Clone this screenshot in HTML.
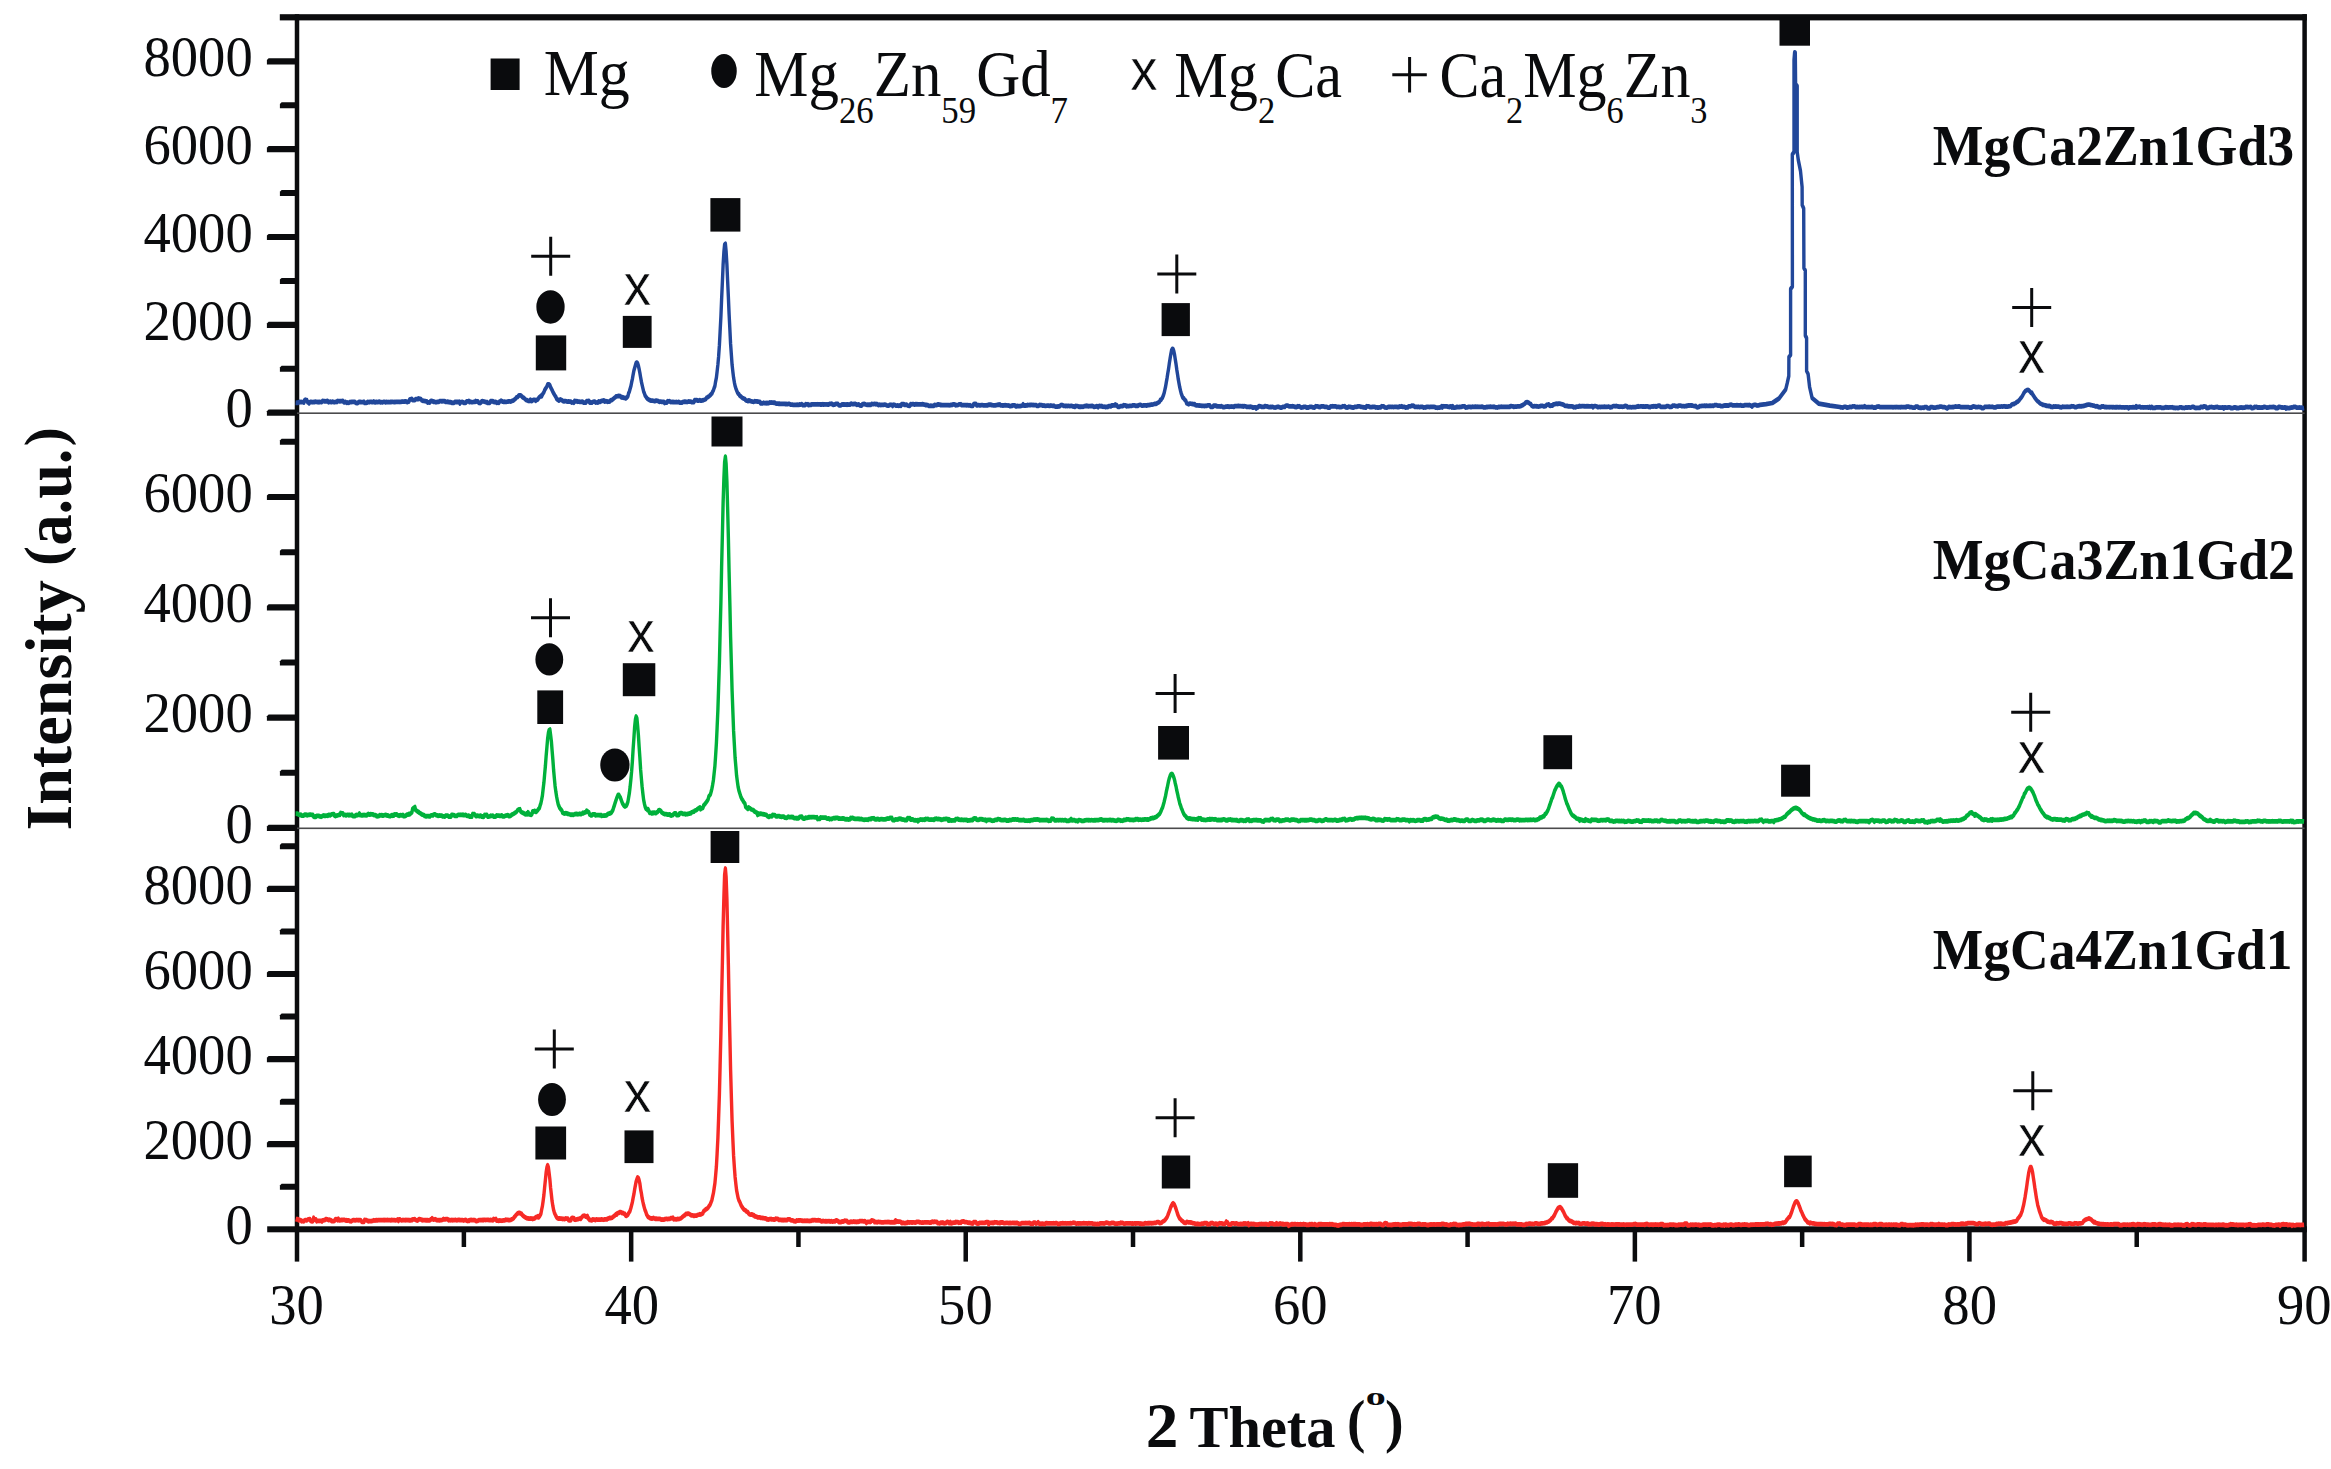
<!DOCTYPE html>
<html lang="en"><head><meta charset="utf-8"><title>XRD patterns</title>
<style>html,body{margin:0;padding:0;background:#fff;overflow:hidden}svg{display:block}text{fill:#0a0b0d}</style></head>
<body><svg width="2331" height="1469" viewBox="0 0 2331 1469">
<rect width="2331" height="1469" fill="#fff"/>
<rect x="294.75" y="14.20" width="4.5" height="1247.40" fill="#0b0c0e"/>
<rect x="2302.35" y="14.20" width="4.5" height="1247.40" fill="#0b0c0e"/>
<rect x="279.8" y="14.20" width="2027.05" height="6.2" fill="#0b0c0e"/>
<rect x="267.2" y="1226.30" width="2039.65" height="6.0" fill="#0b0c0e"/>
<rect x="297.0" y="412.4" width="2007.6" height="1.6" fill="#4a4a4c"/>
<rect x="297.0" y="827.5" width="2007.6" height="1.6" fill="#4a4a4c"/>
<path d="M268.6,409.50H297V415.70H266.9V411.20Z" fill="#0b0c0e"/>
<path d="M281.6,365.70H297V371.70H279.9V367.40Z" fill="#0b0c0e"/>
<path d="M268.6,321.70H297V327.90H266.9V323.40Z" fill="#0b0c0e"/>
<path d="M281.6,277.90H297V283.90H279.9V279.60Z" fill="#0b0c0e"/>
<path d="M268.6,233.90H297V240.10H266.9V235.60Z" fill="#0b0c0e"/>
<path d="M281.6,190.10H297V196.10H279.9V191.80Z" fill="#0b0c0e"/>
<path d="M268.6,146.10H297V152.30H266.9V147.80Z" fill="#0b0c0e"/>
<path d="M281.6,102.30H297V108.30H279.9V104.00Z" fill="#0b0c0e"/>
<path d="M268.6,58.30H297V64.50H266.9V60.00Z" fill="#0b0c0e"/>
<path d="M268.6,824.80H297V831.00H266.9V826.50Z" fill="#0b0c0e"/>
<path d="M281.6,769.75H297V775.75H279.9V771.45Z" fill="#0b0c0e"/>
<path d="M268.6,714.50H297V720.70H266.9V716.20Z" fill="#0b0c0e"/>
<path d="M281.6,659.45H297V665.45H279.9V661.15Z" fill="#0b0c0e"/>
<path d="M268.6,604.20H297V610.40H266.9V605.90Z" fill="#0b0c0e"/>
<path d="M281.6,549.15H297V555.15H279.9V550.85Z" fill="#0b0c0e"/>
<path d="M268.6,493.90H297V500.10H266.9V495.60Z" fill="#0b0c0e"/>
<path d="M281.6,438.85H297V444.85H279.9V440.55Z" fill="#0b0c0e"/>
<path d="M281.6,1183.75H297V1189.75H279.9V1185.45Z" fill="#0b0c0e"/>
<path d="M268.6,1141.10H297V1147.30H266.9V1142.80Z" fill="#0b0c0e"/>
<path d="M281.6,1098.65H297V1104.65H279.9V1100.35Z" fill="#0b0c0e"/>
<path d="M268.6,1056.00H297V1062.20H266.9V1057.70Z" fill="#0b0c0e"/>
<path d="M281.6,1013.55H297V1019.55H279.9V1015.25Z" fill="#0b0c0e"/>
<path d="M268.6,970.90H297V977.10H266.9V972.60Z" fill="#0b0c0e"/>
<path d="M281.6,928.45H297V934.45H279.9V930.15Z" fill="#0b0c0e"/>
<path d="M268.6,885.80H297V892.00H266.9V887.50Z" fill="#0b0c0e"/>
<path d="M281.6,843.35H297V849.35H279.9V845.05Z" fill="#0b0c0e"/>
<rect x="461.63" y="1229.3" width="4.5" height="17.70" fill="#0b0c0e"/>
<rect x="628.92" y="1229.3" width="4.5" height="32.30" fill="#0b0c0e"/>
<rect x="796.20" y="1229.3" width="4.5" height="17.70" fill="#0b0c0e"/>
<rect x="963.48" y="1229.3" width="4.5" height="32.30" fill="#0b0c0e"/>
<rect x="1130.77" y="1229.3" width="4.5" height="17.70" fill="#0b0c0e"/>
<rect x="1298.05" y="1229.3" width="4.5" height="32.30" fill="#0b0c0e"/>
<rect x="1465.33" y="1229.3" width="4.5" height="17.70" fill="#0b0c0e"/>
<rect x="1632.62" y="1229.3" width="4.5" height="32.30" fill="#0b0c0e"/>
<rect x="1799.90" y="1229.3" width="4.5" height="17.70" fill="#0b0c0e"/>
<rect x="1967.18" y="1229.3" width="4.5" height="32.30" fill="#0b0c0e"/>
<rect x="2134.47" y="1229.3" width="4.5" height="17.70" fill="#0b0c0e"/>
<text transform="translate(225.44,427.43) scale(0.9552,1)" font-family='"Liberation Serif", serif' font-size="57.19">0</text>
<text transform="translate(143.50,339.63) scale(0.9552,1)" font-family='"Liberation Serif", serif' font-size="57.19">2000</text>
<text transform="translate(143.50,251.83) scale(0.9552,1)" font-family='"Liberation Serif", serif' font-size="57.19">4000</text>
<text transform="translate(143.50,164.03) scale(0.9552,1)" font-family='"Liberation Serif", serif' font-size="57.19">6000</text>
<text transform="translate(143.50,76.23) scale(0.9552,1)" font-family='"Liberation Serif", serif' font-size="57.19">8000</text>
<text transform="translate(225.44,842.73) scale(0.9552,1)" font-family='"Liberation Serif", serif' font-size="57.19">0</text>
<text transform="translate(143.50,732.43) scale(0.9552,1)" font-family='"Liberation Serif", serif' font-size="57.19">2000</text>
<text transform="translate(143.50,622.13) scale(0.9552,1)" font-family='"Liberation Serif", serif' font-size="57.19">4000</text>
<text transform="translate(143.50,511.83) scale(0.9552,1)" font-family='"Liberation Serif", serif' font-size="57.19">6000</text>
<text transform="translate(225.44,1244.13) scale(0.9552,1)" font-family='"Liberation Serif", serif' font-size="57.19">0</text>
<text transform="translate(143.50,1159.03) scale(0.9552,1)" font-family='"Liberation Serif", serif' font-size="57.19">2000</text>
<text transform="translate(143.50,1073.93) scale(0.9552,1)" font-family='"Liberation Serif", serif' font-size="57.19">4000</text>
<text transform="translate(143.50,988.83) scale(0.9552,1)" font-family='"Liberation Serif", serif' font-size="57.19">6000</text>
<text transform="translate(143.50,903.73) scale(0.9552,1)" font-family='"Liberation Serif", serif' font-size="57.19">8000</text>
<text transform="translate(269.21,1324.42) scale(0.9455,1)" font-family='"Liberation Serif", serif' font-size="57.78">30</text>
<text transform="translate(604.53,1324.42) scale(0.9455,1)" font-family='"Liberation Serif", serif' font-size="57.78">40</text>
<text transform="translate(938.07,1324.42) scale(0.9454,1)" font-family='"Liberation Serif", serif' font-size="57.78">50</text>
<text transform="translate(1273.05,1324.42) scale(0.9455,1)" font-family='"Liberation Serif", serif' font-size="57.78">60</text>
<text transform="translate(1607.00,1324.42) scale(0.9455,1)" font-family='"Liberation Serif", serif' font-size="57.78">70</text>
<text transform="translate(1942.32,1324.42) scale(0.9455,1)" font-family='"Liberation Serif", serif' font-size="57.78">80</text>
<text transform="translate(2277.02,1324.42) scale(0.9454,1)" font-family='"Liberation Serif", serif' font-size="57.78">90</text>
<g transform="scale(1,1.4)">
<path d="M295.6,287.71 296.4,287.79 297.1,287.57 297.9,287.79 298.6,287.45 299.4,287.13 300.1,287.13 300.9,287.18 301.6,287.12 302.4,287.28 303.1,287.14 303.9,287.55 304.6,285.86 305.4,285.54 306.1,285.95 306.9,285.85 307.6,287.33 308.4,287.16 309.1,288.15 309.9,287.23 310.6,286.97 311.4,287.07 312.1,287.34 312.9,287.20 313.6,287.14 314.4,287.21 315.1,286.84 315.9,287.09 316.6,287.13 317.4,287.18 318.1,287.06 318.9,287.33 319.6,287.03 320.4,287.16 321.1,287.26 321.9,287.19 322.6,286.34 323.4,286.47 324.1,286.64 324.9,286.54 325.6,286.62 326.4,286.66 327.1,286.31 327.9,286.63 328.6,287.36 329.4,287.15 330.1,286.85 330.9,287.16 331.6,287.27 332.4,286.88 333.1,287.02 333.9,287.26 334.6,287.32 335.4,287.11 336.1,286.94 336.9,287.15 337.6,286.42 338.4,286.54 339.1,286.55 339.9,286.69 340.6,286.55 341.4,286.54 342.1,286.54 342.9,286.36 343.6,287.21 344.4,287.41 345.1,287.00 345.9,287.31 346.6,287.80 347.4,287.50 348.1,287.68 348.9,287.77 349.6,287.29 350.4,287.13 351.1,287.24 351.9,287.06 352.6,287.14 353.4,287.08 354.1,286.98 354.9,287.07 355.6,287.72 356.4,287.80 357.1,288.02 357.9,287.78 358.6,287.22 359.4,287.02 360.1,287.06 360.9,287.21 361.6,287.17 362.4,287.31 363.1,287.14 363.9,286.95 364.6,287.78 365.4,287.72 366.1,287.83 366.9,287.69 367.6,287.03 368.4,287.16 369.1,287.38 369.9,287.11 370.6,286.98 371.4,287.08 372.1,287.27 372.9,287.25 373.6,286.78 374.4,286.98 375.1,287.44 375.9,287.12 376.6,287.11 377.4,287.26 378.1,287.26 378.9,286.94 379.6,286.96 380.4,287.37 381.1,287.20 381.9,287.34 382.6,287.36 383.4,287.02 384.1,287.10 384.9,287.03 385.6,287.43 386.4,287.06 387.1,287.29 387.9,287.31 388.6,287.14 389.4,287.27 390.1,287.12 390.9,287.25 391.6,287.08 392.4,287.02 393.1,287.14 393.9,287.17 394.6,287.13 395.4,287.17 396.1,286.99 396.9,287.05 397.6,287.12 398.4,287.07 399.1,287.01 399.9,287.15 400.6,286.98 401.4,286.98 402.1,286.76 402.9,286.92 403.6,286.95 404.4,286.93 405.1,286.67 405.9,286.62 406.6,287.11 407.4,287.19 408.1,286.82 408.9,286.83 409.6,285.46 410.4,285.21 411.1,285.10 411.9,284.98 412.6,285.79 413.4,285.79 414.1,285.78 414.9,285.82 415.6,285.03 416.4,285.13 417.1,285.11 417.9,285.18 418.6,284.54 419.4,284.97 420.1,284.96 420.9,285.09 421.6,285.92 422.4,285.93 423.1,286.35 423.9,286.32 424.6,286.45 425.4,286.56 426.1,286.69 426.9,286.65 427.6,287.61 428.4,287.49 429.1,287.43 429.9,287.56 430.6,286.43 431.4,286.26 432.1,286.44 432.9,286.70 433.6,287.13 434.4,286.89 435.1,287.15 435.9,287.36 436.6,287.17 437.4,287.03 438.1,287.13 438.9,287.04 439.6,286.54 440.4,286.49 441.1,286.53 441.9,286.73 442.6,286.54 443.4,286.59 444.1,286.61 444.9,286.48 445.6,287.08 446.4,287.10 447.1,287.14 447.9,286.83 448.6,287.16 449.4,287.21 450.1,287.43 450.9,287.19 451.6,287.71 452.4,287.64 453.1,287.81 453.9,287.72 454.6,287.15 455.4,287.30 456.1,287.01 456.9,287.25 457.6,287.10 458.4,287.17 459.1,286.98 459.9,288.22 460.6,287.19 461.4,287.20 462.1,287.10 462.9,287.19 463.6,287.72 464.4,287.64 465.1,287.84 465.9,287.70 466.6,286.67 467.4,286.71 468.1,286.78 468.9,286.40 469.6,287.25 470.4,286.93 471.1,287.20 471.9,287.28 472.6,287.31 473.4,287.16 474.1,286.99 474.9,287.06 475.6,286.43 476.4,286.85 477.1,286.61 477.9,286.65 478.6,287.74 479.4,287.65 480.1,287.96 480.9,287.61 481.6,286.62 482.4,286.55 483.1,286.65 483.9,286.81 484.6,286.89 485.4,287.14 486.1,287.32 486.9,287.15 487.6,287.79 488.4,287.74 489.1,287.72 489.9,287.68 490.6,286.59 491.4,286.53 492.1,286.73 492.9,286.47 493.6,287.13 494.4,287.24 495.1,287.12 495.9,287.06 496.6,287.72 497.4,287.56 498.1,287.63 498.9,287.68 499.6,286.80 500.4,286.54 501.1,286.21 501.9,286.56 502.6,286.94 503.4,286.97 504.1,286.90 504.9,287.13 505.6,286.97 506.4,287.04 507.1,286.96 507.9,286.91 508.6,286.74 509.4,286.67 510.1,286.81 510.9,286.67 511.6,286.49 512.4,286.25 513.1,286.21 513.9,285.80 514.6,285.26 515.4,284.86 516.1,284.13 516.9,283.62 517.6,283.71 518.4,282.86 519.1,282.34 519.9,282.36 520.6,282.33 521.4,282.75 522.1,283.44 522.9,283.99 523.6,283.97 524.4,284.62 525.1,285.03 525.9,285.63 526.6,285.80 527.4,286.01 528.1,286.30 528.9,286.44 529.6,286.41 530.4,285.48 531.1,286.40 531.9,286.52 532.6,286.00 533.4,285.58 534.1,285.66 534.9,285.63 535.6,286.26 536.4,285.70 537.1,285.60 537.9,285.35 538.6,284.33 539.4,283.67 540.1,283.34 540.9,282.70 541.6,283.09 542.4,281.94 543.1,280.97 543.9,280.19 544.6,278.75 545.4,277.74 546.1,276.94 546.9,276.06 547.6,274.60 548.4,274.54 549.1,274.58 549.9,275.12 550.6,276.63 551.4,277.65 552.1,278.69 552.9,279.91 553.6,280.91 554.4,281.85 555.1,282.75 555.9,283.56 556.6,284.80 557.4,285.37 558.1,285.70 558.9,286.10 559.6,285.58 560.4,285.36 561.1,285.70 561.9,285.78 562.6,286.33 563.4,286.54 564.1,286.71 564.9,286.48 565.6,286.48 566.4,286.60 567.1,286.89 567.9,286.82 568.6,286.71 569.4,286.85 570.1,286.86 570.9,286.92 571.6,287.56 572.4,287.50 573.1,287.38 573.9,287.65 574.6,286.31 575.4,286.61 576.1,286.68 576.9,286.50 577.6,286.96 578.4,286.88 579.1,286.93 579.9,287.09 580.6,286.97 581.4,287.01 582.1,286.89 582.9,287.01 583.6,287.64 584.4,287.51 585.1,287.64 585.9,287.57 586.6,286.58 587.4,286.54 588.1,286.44 588.9,286.30 589.6,287.50 590.4,287.53 591.1,287.50 591.9,287.63 592.6,287.15 593.4,286.98 594.1,286.85 594.9,286.93 595.6,287.57 596.4,287.50 597.1,287.44 597.9,287.56 598.6,286.76 599.4,286.86 600.1,287.12 600.9,286.70 601.6,286.27 602.4,286.37 603.1,286.10 603.9,286.00 604.6,286.86 605.4,286.46 606.1,286.66 606.9,286.61 607.6,286.98 608.4,286.83 609.1,286.91 609.9,286.77 610.6,285.97 611.4,285.76 612.1,285.61 612.9,285.13 613.6,284.80 614.4,284.19 615.1,283.87 615.9,283.17 616.6,283.17 617.4,283.03 618.1,282.98 618.9,282.78 619.6,282.92 620.4,282.97 621.1,283.70 621.9,283.94 622.6,283.63 623.4,284.06 624.1,284.20 624.9,284.27 625.6,284.63 626.4,284.35 627.1,283.71 627.9,283.06 628.6,280.89 629.4,279.58 630.1,277.73 630.9,275.81 631.6,273.22 632.4,270.60 633.1,267.69 633.9,264.76 634.6,262.94 635.4,260.91 636.1,259.30 636.9,258.96 637.6,259.42 638.4,261.22 639.1,263.53 639.9,266.51 640.6,269.44 641.4,272.63 642.1,274.91 642.9,277.42 643.6,279.50 644.4,280.98 645.1,282.54 645.9,283.36 646.6,284.11 647.4,284.85 648.1,285.14 648.9,285.51 649.6,285.81 650.4,285.99 651.1,286.19 651.9,286.09 652.6,286.22 653.4,286.31 654.1,286.45 654.9,286.61 655.6,286.21 656.4,286.22 657.1,286.32 657.9,286.30 658.6,286.63 659.4,286.99 660.1,286.96 660.9,286.91 661.6,286.98 662.4,287.09 663.1,286.98 663.9,287.12 664.6,287.86 665.4,287.58 666.1,287.60 666.9,287.55 667.6,286.58 668.4,286.77 669.1,286.54 669.9,286.67 670.6,287.18 671.4,287.15 672.1,287.02 672.9,287.20 673.6,287.14 674.4,287.28 675.1,287.16 675.9,287.17 676.6,287.14 677.4,287.31 678.1,287.19 678.9,286.99 679.6,287.55 680.4,287.61 681.1,287.57 681.9,287.63 682.6,287.17 683.4,287.06 684.1,287.08 684.9,286.86 685.6,287.07 686.4,286.98 687.1,287.20 687.9,286.98 688.6,286.73 689.4,286.87 690.1,286.91 690.9,286.93 691.6,287.29 692.4,287.27 693.1,287.10 693.9,287.15 694.6,285.88 695.4,285.99 696.1,285.75 696.9,285.76 697.6,286.18 698.4,286.24 699.1,285.95 699.9,285.88 700.6,286.19 701.4,286.22 702.1,286.04 702.9,286.05 703.6,285.70 704.4,285.50 705.1,285.30 705.9,284.97 706.6,284.15 707.4,283.83 708.1,283.44 708.9,283.23 709.6,282.66 710.4,282.10 711.1,281.60 711.9,281.02 712.6,279.83 713.4,278.83 714.1,277.19 714.9,275.71 715.6,272.54 716.4,269.73 717.1,265.50 717.9,260.36 718.6,254.80 719.4,246.58 720.1,237.08 720.9,226.21 721.6,213.79 722.4,201.15 723.1,189.30 723.9,179.93 724.6,174.60 725.4,174.14 726.1,179.49 726.9,188.92 727.6,200.08 728.4,212.60 729.1,224.44 729.9,235.60 730.6,245.73 731.4,253.75 732.1,260.66 732.9,265.82 733.6,269.85 734.4,273.25 735.1,275.62 735.9,277.49 736.6,278.85 737.4,280.23 738.1,281.16 738.9,281.55 739.6,282.48 740.4,282.99 741.1,283.33 741.9,283.88 742.6,284.31 743.4,284.57 744.1,284.77 744.9,284.99 745.6,285.84 746.4,286.21 747.1,286.16 747.9,286.53 748.6,285.94 749.4,286.16 750.1,286.36 750.9,286.60 751.6,286.73 752.4,286.87 753.1,286.98 753.9,286.98 754.6,286.55 755.4,286.61 756.1,286.67 756.9,286.65 757.6,286.93 758.4,286.95 759.1,286.97 759.9,287.03 760.6,288.15 761.4,287.96 762.1,288.13 762.9,288.07 763.6,287.66 764.4,287.96 765.1,288.04 765.9,287.82 766.6,288.06 767.4,287.75 768.1,288.04 768.9,287.89 769.6,287.47 770.4,287.63 771.1,287.50 771.9,287.55 772.6,287.66 773.4,287.53 774.1,287.76 774.9,287.65 775.6,288.15 776.4,288.27 777.1,288.23 777.9,288.22 778.6,288.49 779.4,288.37 780.1,288.44 780.9,288.44 781.6,288.46 782.4,288.42 783.1,288.54 783.9,288.47 784.6,288.43 785.4,288.63 786.1,288.53 786.9,288.63 787.6,288.66 788.4,288.54 789.1,288.42 789.9,288.71 790.6,289.05 791.4,288.95 792.1,289.09 792.9,289.11 793.6,289.16 794.4,289.20 795.1,289.20 795.9,289.21 796.6,289.20 797.4,288.99 798.1,289.28 798.9,289.19 799.6,288.82 800.4,288.95 801.1,288.83 801.9,288.67 802.6,289.31 803.4,289.40 804.1,289.34 804.9,289.34 805.6,288.74 806.4,288.79 807.1,288.89 807.9,288.75 808.6,289.42 809.4,289.26 810.1,289.14 810.9,289.26 811.6,288.77 812.4,288.85 813.1,288.88 813.9,288.79 814.6,288.83 815.4,288.79 816.1,288.88 816.9,288.83 817.6,288.75 818.4,288.90 819.1,288.79 819.9,288.76 820.6,289.04 821.4,288.79 822.1,289.02 822.9,288.72 823.6,289.00 824.4,288.83 825.1,288.82 825.9,288.94 826.6,288.91 827.4,288.90 828.1,289.10 828.9,288.86 829.6,288.52 830.4,288.40 831.1,288.45 831.9,288.38 832.6,288.95 833.4,289.22 834.1,288.93 834.9,288.99 835.6,288.46 836.4,288.45 837.1,288.41 837.9,288.45 838.6,289.41 839.4,289.56 840.1,289.62 840.9,289.49 841.6,289.05 842.4,288.87 843.1,289.08 843.9,288.83 844.6,289.01 845.4,288.97 846.1,288.90 846.9,289.14 847.6,288.84 848.4,289.03 849.1,289.10 849.9,289.08 850.6,288.47 851.4,288.35 852.1,288.67 852.9,288.64 853.6,288.57 854.4,288.62 855.1,288.44 855.9,288.74 856.6,289.21 857.4,288.94 858.1,289.05 858.9,288.89 859.6,289.48 860.4,289.56 861.1,289.76 861.9,289.55 862.6,288.58 863.4,288.64 864.1,288.52 864.9,288.63 865.6,288.93 866.4,289.09 867.1,289.20 867.9,289.09 868.6,289.18 869.4,289.01 870.1,289.26 870.9,289.18 871.6,288.54 872.4,288.66 873.1,288.62 873.9,288.59 874.6,288.45 875.4,288.72 876.1,288.82 876.9,288.55 877.6,289.01 878.4,289.34 879.1,289.01 879.9,289.13 880.6,289.33 881.4,289.18 882.1,289.23 882.9,289.21 883.6,289.12 884.4,289.01 885.1,289.10 885.9,289.16 886.6,289.51 887.4,289.67 888.1,289.70 888.9,289.73 889.6,289.24 890.4,289.10 891.1,289.22 891.9,289.22 892.6,289.98 893.4,289.10 894.1,289.25 894.9,289.22 895.6,289.70 896.4,289.73 897.1,289.76 897.9,289.61 898.6,289.88 899.4,289.73 900.1,289.57 900.9,289.91 901.6,288.69 902.4,288.67 903.1,288.81 903.9,288.61 904.6,289.27 905.4,289.28 906.1,289.02 906.9,289.22 907.6,289.59 908.4,289.82 909.1,289.89 909.9,289.84 910.6,288.65 911.4,288.91 912.1,288.69 912.9,288.70 913.6,288.59 914.4,289.03 915.1,288.87 915.9,288.64 916.6,288.80 917.4,288.75 918.1,288.82 918.9,288.80 919.6,288.89 920.4,288.90 921.1,288.83 921.9,288.87 922.6,288.70 923.4,288.89 924.1,288.97 924.9,288.95 925.6,289.30 926.4,289.21 927.1,289.34 927.9,289.42 928.6,289.88 929.4,289.85 930.1,289.86 930.9,289.78 931.6,289.85 932.4,289.87 933.1,289.91 933.9,289.84 934.6,289.17 935.4,289.31 936.1,289.44 936.9,289.38 937.6,288.83 938.4,288.87 939.1,289.02 939.9,288.96 940.6,289.38 941.4,289.26 942.1,289.46 942.9,289.30 943.6,289.36 944.4,289.39 945.1,289.40 945.9,289.37 946.6,289.32 947.4,289.34 948.1,289.47 948.9,289.29 949.6,289.47 950.4,289.42 951.1,289.14 951.9,289.31 952.6,289.04 953.4,288.84 954.1,288.81 954.9,288.93 955.6,289.47 956.4,289.39 957.1,289.46 957.9,289.30 958.6,288.96 959.4,288.77 960.1,288.86 960.9,288.75 961.6,289.36 962.4,289.42 963.1,289.42 963.9,289.40 964.6,289.42 965.4,289.33 966.1,289.52 966.9,289.40 967.6,289.35 968.4,289.54 969.1,289.62 969.9,289.43 970.6,289.81 971.4,289.99 972.1,289.94 972.9,289.94 973.6,288.60 974.4,288.50 975.1,288.59 975.9,288.48 976.6,289.48 977.4,289.53 978.1,289.43 978.9,289.44 979.6,289.52 980.4,289.51 981.1,289.44 981.9,289.40 982.6,289.46 983.4,289.52 984.1,289.60 984.9,289.50 985.6,289.58 986.4,289.51 987.1,289.45 987.9,289.48 988.6,288.99 989.4,288.99 990.1,289.15 990.9,289.00 991.6,289.45 992.4,289.46 993.1,289.50 993.9,289.57 994.6,289.58 995.4,289.54 996.1,289.45 996.9,289.34 997.6,289.15 998.4,288.98 999.1,289.14 999.9,288.84 1000.6,289.50 1001.4,289.53 1002.1,289.52 1002.9,289.75 1003.6,289.52 1004.4,289.52 1005.1,289.45 1005.9,289.53 1006.6,289.57 1007.4,289.63 1008.1,289.66 1008.9,289.62 1009.6,290.06 1010.4,290.14 1011.1,289.94 1011.9,290.00 1012.6,289.54 1013.4,289.63 1014.1,289.54 1014.9,289.62 1015.6,290.28 1016.4,290.28 1017.1,289.89 1017.9,290.16 1018.6,290.14 1019.4,290.08 1020.1,290.14 1020.9,290.01 1021.6,289.68 1022.4,289.67 1023.1,288.85 1023.9,289.69 1024.6,289.52 1025.3,289.80 1026.1,289.58 1026.8,289.64 1027.6,289.25 1028.3,289.29 1029.1,289.30 1029.8,289.24 1030.6,289.37 1031.3,289.20 1032.1,289.25 1032.8,289.31 1033.6,289.28 1034.3,289.36 1035.1,289.43 1035.8,289.30 1036.6,289.66 1037.3,289.99 1038.1,289.97 1038.8,289.79 1039.6,289.17 1040.3,289.32 1041.1,289.33 1041.8,289.33 1042.6,289.78 1043.3,289.67 1044.1,289.59 1044.8,289.83 1045.6,289.90 1046.3,289.83 1047.1,289.73 1047.8,289.70 1048.6,289.75 1049.3,289.92 1050.1,289.83 1050.8,289.63 1051.6,289.80 1052.3,289.84 1053.1,289.98 1053.8,289.78 1054.6,290.20 1055.3,290.41 1056.1,290.39 1056.8,290.39 1057.6,290.49 1058.3,290.20 1059.1,290.35 1059.8,290.22 1060.6,289.52 1061.3,289.28 1062.1,289.40 1062.8,289.40 1063.6,289.95 1064.3,289.97 1065.1,289.93 1065.8,290.08 1066.6,289.86 1067.3,290.02 1068.1,289.94 1068.8,289.97 1069.6,290.03 1070.3,290.01 1071.1,289.85 1071.8,289.87 1072.6,290.35 1073.3,290.24 1074.1,290.46 1074.8,290.63 1075.6,289.90 1076.3,290.09 1077.1,290.08 1077.8,290.09 1078.6,290.45 1079.3,290.60 1080.1,290.39 1080.8,290.63 1081.6,290.45 1082.3,290.46 1083.1,290.57 1083.8,290.37 1084.6,290.05 1085.3,290.10 1086.1,289.81 1086.8,290.17 1087.6,289.92 1088.3,290.22 1089.1,290.13 1089.8,290.12 1090.6,289.98 1091.3,290.11 1092.1,289.92 1092.8,290.04 1093.6,290.54 1094.3,290.57 1095.1,290.45 1095.8,290.51 1096.6,290.04 1097.3,290.22 1098.1,290.92 1098.8,290.04 1099.6,289.98 1100.3,290.09 1101.1,290.21 1101.8,289.99 1102.6,290.50 1103.3,290.54 1104.1,290.46 1104.8,290.54 1105.6,290.79 1106.3,290.63 1107.1,290.53 1107.8,290.71 1108.6,290.04 1109.3,290.21 1110.1,290.03 1110.8,290.27 1111.6,289.59 1112.3,289.76 1113.1,289.57 1113.8,289.57 1114.6,289.63 1115.3,288.87 1116.1,289.55 1116.8,289.35 1117.6,290.46 1118.3,290.65 1119.1,290.58 1119.8,290.44 1120.6,290.11 1121.3,290.09 1122.1,290.16 1122.8,290.09 1123.6,289.43 1124.3,289.51 1125.1,289.65 1125.8,289.57 1126.6,290.20 1127.3,290.00 1128.1,290.03 1128.8,290.05 1129.6,289.91 1130.3,289.97 1131.1,289.96 1131.8,289.86 1132.6,289.60 1133.3,289.48 1134.1,289.62 1134.8,289.55 1135.6,289.96 1136.3,289.89 1137.1,289.80 1137.8,289.91 1138.6,289.49 1139.3,289.30 1140.1,289.16 1140.8,289.20 1141.6,289.74 1142.3,289.75 1143.1,289.72 1143.8,289.48 1144.6,289.62 1145.3,289.58 1146.1,289.53 1146.8,289.70 1147.6,289.40 1148.3,289.34 1149.1,289.34 1149.8,289.26 1150.6,289.19 1151.3,288.93 1152.1,289.03 1152.8,288.91 1153.6,288.71 1154.3,288.55 1155.1,288.49 1155.8,288.48 1156.6,288.23 1157.3,287.88 1158.1,287.66 1158.8,287.32 1159.6,286.86 1160.3,285.61 1161.1,285.60 1161.8,284.73 1162.6,283.92 1163.3,282.62 1164.1,280.82 1164.8,278.67 1165.6,276.04 1166.3,273.14 1167.1,269.90 1167.8,266.60 1168.6,263.28 1169.3,259.65 1170.1,256.04 1170.8,253.06 1171.6,250.09 1172.3,249.16 1173.1,249.37 1173.8,250.80 1174.6,253.58 1175.3,256.77 1176.1,260.42 1176.8,264.05 1177.6,267.61 1178.3,271.03 1179.1,274.13 1179.8,276.85 1180.6,279.24 1181.3,281.18 1182.1,282.73 1182.8,284.14 1183.6,284.28 1184.3,285.07 1185.1,285.86 1185.8,286.18 1186.6,287.99 1187.3,288.27 1188.1,288.53 1188.8,288.76 1189.6,288.28 1190.3,288.31 1191.1,288.39 1191.8,288.54 1192.6,288.57 1193.3,288.69 1194.1,288.84 1194.8,288.71 1195.6,289.46 1196.3,289.51 1197.1,289.58 1197.8,289.53 1198.6,289.66 1199.3,289.64 1200.1,289.69 1200.8,289.74 1201.6,289.91 1202.3,289.82 1203.1,289.93 1203.8,289.95 1204.6,290.05 1205.3,289.83 1206.1,289.82 1206.8,289.95 1207.6,289.60 1208.3,289.60 1209.1,289.54 1209.8,289.63 1210.6,290.63 1211.3,290.60 1212.1,290.58 1212.8,290.59 1213.6,289.68 1214.3,289.92 1215.1,289.72 1215.8,289.76 1216.6,290.23 1217.3,290.17 1218.1,290.33 1218.8,290.19 1219.6,290.32 1220.3,290.37 1221.1,290.12 1221.8,290.27 1222.6,290.63 1223.3,290.80 1224.1,290.83 1224.8,290.72 1225.6,290.48 1226.3,290.36 1227.1,290.42 1227.8,290.26 1228.6,290.43 1229.3,290.63 1230.1,290.50 1230.8,290.52 1231.6,290.36 1232.3,290.38 1233.1,290.46 1233.8,290.66 1234.6,290.12 1235.3,290.07 1236.1,290.10 1236.8,290.03 1237.6,290.13 1238.3,289.88 1239.1,290.11 1239.8,290.13 1240.6,290.02 1241.3,290.13 1242.1,290.22 1242.8,290.06 1243.6,290.35 1244.3,290.08 1245.1,290.19 1245.8,290.28 1246.6,290.65 1247.3,290.65 1248.1,290.63 1248.8,290.55 1249.6,290.74 1250.3,290.49 1251.1,290.58 1251.8,290.72 1252.6,291.11 1253.3,291.19 1254.1,290.97 1254.8,290.95 1255.6,291.04 1256.3,291.77 1257.1,290.96 1257.8,291.09 1258.6,290.25 1259.3,290.04 1260.1,290.23 1260.8,290.25 1261.6,290.65 1262.3,290.70 1263.1,290.62 1263.8,290.68 1264.6,290.13 1265.3,290.12 1266.1,290.25 1266.8,290.20 1267.6,290.49 1268.3,290.61 1269.1,290.76 1269.8,290.76 1270.6,290.69 1271.3,290.77 1272.1,290.65 1272.8,290.64 1273.6,290.98 1274.3,291.05 1275.1,291.09 1275.8,291.04 1276.6,290.73 1277.3,290.71 1278.1,290.52 1278.8,290.67 1279.6,290.90 1280.3,291.14 1281.1,291.07 1281.8,291.16 1282.6,290.58 1283.3,290.64 1284.1,290.63 1284.8,290.59 1285.6,289.90 1286.3,289.81 1287.1,289.79 1287.8,289.75 1288.6,290.16 1289.3,290.27 1290.1,290.24 1290.8,290.27 1291.6,290.31 1292.3,290.16 1293.1,290.24 1293.8,290.27 1294.6,290.67 1295.3,290.63 1296.1,290.81 1296.8,290.62 1297.6,290.16 1298.3,290.37 1299.1,290.14 1299.8,290.35 1300.6,290.99 1301.3,291.09 1302.1,291.03 1302.8,291.05 1303.6,290.59 1304.3,290.65 1305.1,290.61 1305.8,290.65 1306.6,291.21 1307.3,291.04 1308.1,291.14 1308.8,290.98 1309.6,290.69 1310.3,290.61 1311.1,290.57 1311.8,290.66 1312.6,291.03 1313.3,290.99 1314.1,291.11 1314.8,291.10 1315.6,290.18 1316.3,290.27 1317.1,290.22 1317.8,290.19 1318.6,290.67 1319.3,290.58 1320.1,290.88 1320.8,290.51 1321.6,290.21 1322.3,290.33 1323.1,290.31 1323.8,290.31 1324.6,290.63 1325.3,290.68 1326.1,290.64 1326.8,290.64 1327.6,291.05 1328.3,291.18 1329.1,291.11 1329.8,291.21 1330.6,290.36 1331.3,290.34 1332.1,290.21 1332.8,290.17 1333.6,290.27 1334.3,290.30 1335.1,290.35 1335.8,290.28 1336.6,290.72 1337.3,290.70 1338.1,290.60 1338.8,290.63 1339.6,290.80 1340.3,290.73 1341.1,290.75 1341.8,290.67 1342.6,290.18 1343.3,290.31 1344.1,290.22 1344.8,290.17 1345.6,291.03 1346.3,290.94 1347.1,291.14 1347.8,291.04 1348.6,290.53 1349.3,290.69 1350.1,290.64 1350.8,290.75 1351.6,290.98 1352.3,290.98 1353.1,291.19 1353.8,291.00 1354.6,290.70 1355.3,290.63 1356.1,290.70 1356.8,290.68 1357.6,290.26 1358.3,290.25 1359.1,290.21 1359.8,290.27 1360.6,290.55 1361.3,290.58 1362.1,290.70 1362.8,290.79 1363.6,290.99 1364.3,291.06 1365.1,291.07 1365.8,291.18 1366.6,290.18 1367.3,290.29 1368.1,290.23 1368.8,290.23 1369.6,290.67 1370.3,290.84 1371.1,290.73 1371.8,290.76 1372.6,290.60 1373.3,290.60 1374.1,290.71 1374.8,290.56 1375.6,291.07 1376.3,290.93 1377.1,291.10 1377.8,291.04 1378.6,291.13 1379.3,291.05 1380.1,291.06 1380.8,290.93 1381.6,290.18 1382.3,290.24 1383.1,290.32 1383.8,290.28 1384.6,290.93 1385.3,291.05 1386.1,291.10 1386.8,291.17 1387.6,290.93 1388.3,290.66 1389.1,290.58 1389.8,290.76 1390.6,290.56 1391.3,290.72 1392.1,290.60 1392.8,290.66 1393.6,290.72 1394.3,290.71 1395.1,290.69 1395.8,290.62 1396.6,290.66 1397.3,290.75 1398.1,290.70 1398.8,290.79 1399.6,290.35 1400.3,290.38 1401.1,290.38 1401.8,290.16 1402.6,290.68 1403.3,290.70 1404.1,290.61 1404.8,290.68 1405.6,291.14 1406.3,291.00 1407.1,290.97 1407.8,291.00 1408.6,290.25 1409.3,290.30 1410.1,290.23 1410.8,290.28 1411.6,289.72 1412.3,289.86 1413.1,289.80 1413.8,289.85 1414.6,290.61 1415.3,290.69 1416.1,290.61 1416.8,290.60 1417.6,290.72 1418.3,290.54 1419.1,290.74 1419.8,290.76 1420.6,290.69 1421.3,290.62 1422.1,290.63 1422.8,290.68 1423.6,291.13 1424.3,291.04 1425.1,290.86 1425.8,291.09 1426.6,290.64 1427.3,290.63 1428.1,290.58 1428.8,290.70 1429.6,290.76 1430.3,290.67 1431.1,290.62 1431.8,290.55 1432.6,290.64 1433.3,290.69 1434.1,290.65 1434.8,290.74 1435.6,291.10 1436.3,291.15 1437.1,291.18 1437.8,291.27 1438.6,291.12 1439.3,291.21 1440.1,290.95 1440.8,291.01 1441.6,290.23 1442.3,290.99 1443.1,290.18 1443.8,290.30 1444.6,290.32 1445.3,290.24 1446.1,290.25 1446.8,290.27 1447.6,290.43 1448.3,290.57 1449.1,290.64 1449.8,290.76 1450.6,290.24 1451.3,290.25 1452.1,291.09 1452.8,290.24 1453.6,291.14 1454.3,291.08 1455.1,291.08 1455.8,291.05 1456.6,290.69 1457.3,290.62 1458.1,290.76 1458.8,290.75 1459.6,290.69 1460.3,290.73 1461.1,290.57 1461.8,290.55 1462.6,290.22 1463.3,290.24 1464.1,290.18 1464.8,290.25 1465.6,291.11 1466.3,291.02 1467.1,290.96 1467.8,290.82 1468.6,290.54 1469.3,290.65 1470.1,290.62 1470.8,290.81 1471.6,290.78 1472.3,290.53 1473.1,290.56 1473.8,290.68 1474.6,290.62 1475.3,290.46 1476.1,290.50 1476.8,290.69 1477.6,290.51 1478.3,290.58 1479.1,290.59 1479.8,290.61 1480.6,290.67 1481.3,290.65 1482.1,290.51 1482.8,290.59 1483.6,291.04 1484.3,291.01 1485.1,291.00 1485.8,290.93 1486.6,290.62 1487.3,290.77 1488.1,290.67 1488.8,290.66 1489.6,290.66 1490.3,290.47 1491.1,290.68 1491.8,290.59 1492.6,290.57 1493.3,290.77 1494.1,290.48 1494.8,290.72 1495.6,291.01 1496.3,290.96 1497.1,291.08 1497.8,291.00 1498.6,290.60 1499.3,290.74 1500.1,290.63 1500.8,290.57 1501.6,290.51 1502.3,290.67 1503.1,290.64 1503.8,290.65 1504.6,290.59 1505.3,290.63 1506.1,290.58 1506.8,290.61 1507.6,290.56 1508.3,290.64 1509.1,290.53 1509.8,290.58 1510.6,290.17 1511.3,290.16 1512.1,290.24 1512.8,290.23 1513.6,290.56 1514.3,290.55 1515.1,290.33 1515.8,290.47 1516.6,290.38 1517.3,290.26 1518.1,290.34 1518.8,290.30 1519.6,290.24 1520.3,290.11 1521.1,289.91 1521.8,289.52 1522.6,289.49 1523.3,289.00 1524.1,288.70 1524.8,288.37 1525.6,287.56 1526.3,287.37 1527.1,287.24 1527.8,287.36 1528.6,287.62 1529.3,288.03 1530.1,288.48 1530.8,288.61 1531.6,289.84 1532.3,290.06 1533.1,290.35 1533.8,290.24 1534.6,290.08 1535.3,290.16 1536.1,290.19 1536.8,290.16 1537.6,290.30 1538.3,290.41 1539.1,290.35 1539.8,290.28 1540.6,289.91 1541.3,289.97 1542.1,289.86 1542.8,289.90 1543.6,290.24 1544.3,290.28 1545.1,290.09 1545.8,290.06 1546.6,289.16 1547.3,289.10 1548.1,288.97 1548.8,288.80 1549.6,289.75 1550.3,289.88 1551.1,289.78 1551.8,289.54 1552.6,289.75 1553.3,288.83 1554.1,288.79 1554.8,288.66 1555.6,288.49 1556.3,288.52 1557.1,288.35 1557.8,288.58 1558.6,288.28 1559.3,288.29 1560.1,288.32 1560.8,288.57 1561.6,288.69 1562.3,288.78 1563.1,288.98 1563.8,289.16 1564.6,289.76 1565.3,289.93 1566.1,289.84 1566.8,290.05 1567.6,289.95 1568.3,290.28 1569.1,290.26 1569.8,290.18 1570.6,290.32 1571.3,290.23 1572.1,290.37 1572.8,290.35 1573.6,290.96 1574.3,290.84 1575.1,290.84 1575.8,290.94 1576.6,290.45 1577.3,290.43 1578.1,290.53 1578.8,290.42 1579.6,289.89 1580.3,290.29 1581.1,290.19 1581.8,290.13 1582.6,290.09 1583.3,290.14 1584.1,290.21 1584.8,290.16 1585.6,290.19 1586.3,290.29 1587.1,290.09 1587.8,290.21 1588.6,290.18 1589.3,290.26 1590.1,290.21 1590.8,290.23 1591.6,290.14 1592.3,290.13 1593.1,290.94 1593.8,290.24 1594.6,290.07 1595.3,290.04 1596.1,290.20 1596.8,290.34 1597.6,290.75 1598.3,290.73 1599.1,290.67 1599.8,290.63 1600.6,290.73 1601.3,290.60 1602.1,290.56 1602.8,290.61 1603.6,290.58 1604.3,290.51 1605.1,290.66 1605.8,290.62 1606.6,290.58 1607.3,290.57 1608.1,290.53 1608.8,290.47 1609.6,290.74 1610.3,291.00 1611.1,290.85 1611.8,290.85 1612.6,290.20 1613.3,290.15 1614.1,290.12 1614.8,290.07 1615.6,290.18 1616.3,289.94 1617.1,290.23 1617.8,290.21 1618.6,290.40 1619.3,290.56 1620.1,290.41 1620.8,290.46 1621.6,290.44 1622.3,290.55 1623.1,290.47 1623.8,290.50 1624.6,290.02 1625.3,289.91 1626.1,290.08 1626.8,290.03 1627.6,290.93 1628.3,290.77 1629.1,290.91 1629.8,290.79 1630.6,290.86 1631.3,290.92 1632.1,290.86 1632.8,290.74 1633.6,290.84 1634.3,290.85 1635.1,290.82 1635.8,290.80 1636.6,290.46 1637.3,290.50 1638.1,290.18 1638.8,290.48 1639.6,290.36 1640.3,290.27 1641.1,290.33 1641.8,290.32 1642.6,290.44 1643.3,290.30 1644.1,290.49 1644.8,290.32 1645.6,290.47 1646.3,290.28 1647.1,290.31 1647.8,290.21 1648.6,290.69 1649.3,290.57 1650.1,290.78 1650.8,290.59 1651.6,290.37 1652.3,290.20 1653.1,290.46 1653.8,290.12 1654.6,290.33 1655.3,290.14 1656.1,290.53 1656.8,290.39 1657.6,289.88 1658.3,289.82 1659.1,289.80 1659.8,289.81 1660.6,290.62 1661.3,290.63 1662.1,290.71 1662.8,290.65 1663.6,290.57 1664.3,290.58 1665.1,290.68 1665.8,290.48 1666.6,290.17 1667.3,290.15 1668.1,290.17 1668.8,290.22 1669.6,290.60 1670.3,290.66 1671.1,290.63 1671.8,290.52 1672.6,289.73 1673.3,289.83 1674.1,289.70 1674.8,289.77 1675.6,290.10 1676.3,290.15 1677.1,290.16 1677.8,290.22 1678.6,289.81 1679.3,289.81 1680.1,289.73 1680.8,289.68 1681.6,290.10 1682.3,290.02 1683.1,290.15 1683.8,290.14 1684.6,290.20 1685.3,290.04 1686.1,289.98 1686.8,290.02 1687.6,289.66 1688.3,289.60 1689.1,289.70 1689.8,289.59 1690.6,289.54 1691.3,289.73 1692.1,289.56 1692.8,289.84 1693.6,290.00 1694.3,290.08 1695.1,290.01 1695.8,289.99 1696.6,290.76 1697.3,290.91 1698.1,290.81 1698.8,290.66 1699.6,290.12 1700.3,290.02 1701.1,290.01 1701.8,289.94 1702.6,289.98 1703.3,289.88 1704.1,289.91 1704.8,289.78 1705.6,290.00 1706.3,289.74 1707.1,289.95 1707.8,289.89 1708.6,289.86 1709.3,289.91 1710.1,289.75 1710.8,289.90 1711.6,289.85 1712.3,289.70 1713.1,289.86 1713.8,289.84 1714.6,289.41 1715.3,289.29 1716.1,289.38 1716.8,289.44 1717.6,289.74 1718.3,289.77 1719.1,289.71 1719.8,289.69 1720.6,290.01 1721.3,290.05 1722.1,290.11 1722.8,290.06 1723.6,289.66 1724.3,289.70 1725.1,289.54 1725.8,289.56 1726.6,289.74 1727.3,289.62 1728.1,289.71 1728.8,289.66 1729.6,289.19 1730.3,289.19 1731.1,289.09 1731.8,289.14 1732.6,289.55 1733.3,289.57 1734.1,289.50 1734.8,289.63 1735.6,289.47 1736.3,289.58 1737.1,289.43 1737.8,289.48 1738.6,289.53 1739.3,289.49 1740.1,289.57 1740.8,289.36 1741.6,289.71 1742.3,289.77 1743.1,289.66 1743.8,289.69 1744.6,289.30 1745.3,289.30 1746.1,289.39 1746.8,289.36 1747.6,289.39 1748.3,289.48 1749.1,289.28 1749.8,289.30 1750.6,289.75 1751.3,289.80 1752.1,290.37 1752.8,289.65 1753.6,289.32 1754.3,289.23 1755.1,289.26 1755.8,289.22 1756.6,289.62 1757.3,289.65 1758.1,289.53 1758.8,289.54 1759.6,289.18 1760.0,289.21 1766.0,288.71 1772.3,287.86 1779.0,284.64 1785.7,278.21 1787.2,273.79 1788.8,268.57 1788.9,255.00 1790.6,253.57 1790.6,206.43 1792.4,204.64 1792.3,110.36 1794.0,108.57 1794.0,42.86 1794.6,37.43 1795.3,37.57 1795.6,60.00 1797.2,61.43 1797.2,108.57 1798.3,114.29 1800.5,122.14 1802.1,133.57 1802.2,146.43 1803.7,148.93 1803.9,191.43 1805.3,193.21 1805.3,239.64 1806.6,241.43 1806.6,265.00 1808.1,267.14 1809.6,276.43 1812.1,284.29 1818.8,288.29 1830.0,289.71 1840.0,290.71 1840.6,290.99 1841.3,291.02 1842.1,291.06 1842.8,291.17 1843.6,290.71 1844.3,290.63 1845.1,290.67 1845.8,290.63 1846.6,291.12 1847.3,291.07 1848.1,291.07 1848.8,291.01 1849.6,290.61 1850.3,290.68 1851.1,290.78 1851.8,290.67 1852.6,290.27 1853.3,290.35 1854.1,290.22 1854.8,290.33 1855.6,290.80 1856.3,290.78 1857.1,290.65 1857.8,290.85 1858.6,290.76 1859.3,290.71 1860.1,290.72 1860.8,290.69 1861.6,290.65 1862.3,290.77 1863.1,290.60 1863.8,290.74 1864.6,290.13 1865.3,290.67 1866.1,290.75 1866.8,290.86 1867.6,290.83 1868.3,290.71 1869.1,290.80 1869.8,290.74 1870.6,290.87 1871.3,290.85 1872.1,290.68 1872.8,290.83 1873.6,291.21 1874.3,291.01 1875.1,291.21 1875.8,291.14 1876.6,290.53 1877.3,290.40 1878.1,290.51 1878.8,290.29 1879.6,290.68 1880.3,290.84 1881.1,290.80 1881.8,290.78 1882.6,290.80 1883.3,290.79 1884.1,290.79 1884.8,290.75 1885.6,290.83 1886.3,290.87 1887.1,290.85 1887.8,290.82 1888.6,290.80 1889.3,290.85 1890.1,290.74 1890.8,290.79 1891.6,290.74 1892.3,290.78 1893.1,290.92 1893.8,290.85 1894.6,290.79 1895.3,290.91 1896.1,290.67 1896.8,290.86 1897.6,290.89 1898.3,290.84 1899.1,290.90 1899.8,290.80 1900.6,290.93 1901.3,290.71 1902.1,290.79 1902.8,290.73 1903.6,290.85 1904.3,290.85 1905.1,290.75 1905.8,290.91 1906.6,290.52 1907.3,290.50 1908.1,290.38 1908.8,290.45 1909.6,290.81 1910.3,290.72 1911.1,290.73 1911.8,290.87 1912.6,291.16 1913.3,291.13 1914.1,291.22 1914.8,291.22 1915.6,290.42 1916.3,290.42 1917.1,290.42 1917.8,290.47 1918.6,291.22 1919.3,291.17 1920.1,291.30 1920.8,291.24 1921.6,291.30 1922.3,291.23 1923.1,291.24 1923.8,291.26 1924.6,290.86 1925.3,290.82 1926.1,290.79 1926.8,290.83 1927.6,291.54 1928.3,291.53 1929.1,291.65 1929.8,291.61 1930.6,290.77 1931.3,290.74 1932.1,290.82 1932.8,290.94 1933.6,291.14 1934.3,291.20 1935.1,291.18 1935.8,291.10 1936.6,290.93 1937.3,290.80 1938.1,290.79 1938.8,290.84 1939.6,290.45 1940.3,290.49 1941.1,290.43 1941.8,290.54 1942.6,290.77 1943.3,290.86 1944.1,290.85 1944.8,290.84 1945.6,291.14 1946.3,291.35 1947.1,291.82 1947.8,291.37 1948.6,290.68 1949.3,290.71 1950.1,290.75 1950.8,290.80 1951.6,290.83 1952.3,290.86 1953.1,290.66 1953.8,290.77 1954.6,290.54 1955.3,290.29 1956.1,290.38 1956.8,290.43 1957.6,290.38 1958.3,290.48 1959.1,290.29 1959.8,290.43 1960.6,290.83 1961.3,290.87 1962.1,290.78 1962.8,290.87 1963.6,290.80 1964.3,290.81 1965.1,290.77 1965.8,290.75 1966.6,290.77 1967.3,290.81 1968.1,290.86 1968.8,290.85 1969.6,291.17 1970.3,291.16 1971.1,291.06 1971.8,291.16 1972.6,290.38 1973.3,290.32 1974.1,290.40 1974.8,290.41 1975.6,290.78 1976.3,290.79 1977.1,290.72 1977.8,290.74 1978.6,290.64 1979.3,290.72 1980.1,290.72 1980.8,290.74 1981.6,291.46 1982.3,291.43 1983.1,291.55 1983.8,291.39 1984.6,290.69 1985.3,290.66 1986.1,290.68 1986.8,290.65 1987.6,290.68 1988.3,290.56 1989.1,290.46 1989.8,290.62 1990.6,290.64 1991.3,290.71 1992.1,290.50 1992.8,290.66 1993.6,290.90 1994.3,290.91 1995.1,290.92 1995.8,290.92 1996.6,290.53 1997.3,290.40 1998.1,290.45 1998.8,290.44 1999.6,290.42 2000.3,290.42 2001.1,290.36 2001.8,290.29 2002.6,290.37 2003.3,290.33 2004.1,290.18 2004.8,290.26 2005.6,290.41 2006.3,290.35 2007.1,290.45 2007.8,290.37 2008.6,290.27 2009.3,290.19 2010.1,290.04 2010.8,289.89 2011.6,289.02 2012.3,288.78 2013.1,288.68 2013.8,288.60 2014.6,288.18 2015.3,287.99 2016.1,287.68 2016.8,287.07 2017.6,287.03 2018.3,286.48 2019.1,285.98 2019.8,285.28 2020.6,284.52 2021.3,283.93 2022.1,283.14 2022.8,282.21 2023.6,281.07 2024.3,280.33 2025.1,279.52 2025.8,279.05 2026.6,278.81 2027.3,278.58 2028.1,278.47 2028.8,278.73 2029.6,279.43 2030.3,279.96 2031.1,280.64 2031.8,280.54 2032.6,281.60 2033.3,282.47 2034.1,283.31 2034.8,284.11 2035.6,284.89 2036.3,285.54 2037.1,286.21 2037.8,286.73 2038.6,287.09 2039.3,287.65 2040.1,288.09 2040.8,288.39 2041.6,288.65 2042.3,288.91 2043.1,289.26 2043.8,289.26 2044.6,289.44 2045.3,289.52 2046.1,289.83 2046.8,289.81 2047.6,289.95 2048.3,290.05 2049.1,289.87 2049.8,290.04 2050.6,290.54 2051.3,290.53 2052.1,290.73 2052.8,290.66 2053.6,290.35 2054.3,290.36 2055.1,290.39 2055.8,290.34 2056.6,290.39 2057.3,290.47 2058.1,290.48 2058.8,290.42 2059.6,290.75 2060.3,290.81 2061.1,290.92 2061.8,290.93 2062.6,290.47 2063.3,290.66 2064.1,290.66 2064.8,290.65 2065.6,290.56 2066.3,290.57 2067.1,290.53 2067.8,290.55 2068.6,290.64 2069.3,290.69 2070.1,290.64 2070.8,290.46 2071.6,290.18 2072.3,290.29 2073.1,290.25 2073.8,290.25 2074.6,290.83 2075.3,290.75 2076.1,290.78 2076.8,290.64 2077.6,290.33 2078.3,290.16 2079.1,290.31 2079.8,290.10 2080.6,290.20 2081.3,290.29 2082.1,290.09 2082.8,290.14 2083.6,289.91 2084.3,289.90 2085.1,289.56 2085.8,289.65 2086.6,289.18 2087.3,289.20 2088.1,289.08 2088.8,289.10 2089.6,289.10 2090.3,289.23 2091.1,289.37 2091.8,289.48 2092.6,289.62 2093.3,289.76 2094.1,289.79 2094.8,290.03 2095.6,290.26 2096.3,290.22 2097.1,290.09 2097.8,290.36 2098.6,290.88 2099.3,290.88 2100.1,290.95 2100.8,290.92 2101.6,290.24 2102.3,290.37 2103.1,290.28 2103.8,290.47 2104.6,290.78 2105.3,290.84 2106.1,290.63 2106.8,290.89 2107.6,290.80 2108.3,290.72 2109.1,290.89 2109.8,290.87 2110.6,290.79 2111.3,290.84 2112.1,290.85 2112.8,290.99 2113.6,290.85 2114.3,290.89 2115.1,290.91 2115.8,290.81 2116.6,291.00 2117.3,290.81 2118.1,290.88 2118.8,290.98 2119.6,290.78 2120.3,290.83 2121.1,290.92 2121.8,291.02 2122.6,290.96 2123.3,290.96 2124.1,291.08 2124.8,291.01 2125.6,290.93 2126.3,290.99 2127.1,291.02 2127.8,291.01 2128.6,291.59 2129.3,290.90 2130.1,290.96 2130.8,290.97 2131.6,290.96 2132.3,290.95 2133.1,290.80 2133.8,291.00 2134.6,290.98 2135.3,290.95 2136.1,290.11 2136.8,291.08 2137.6,290.66 2138.3,290.64 2139.1,290.59 2139.8,290.51 2140.6,290.94 2141.3,291.03 2142.1,291.02 2142.8,290.89 2143.6,291.08 2144.3,290.90 2145.1,290.90 2145.8,290.92 2146.6,291.03 2147.3,290.88 2148.1,291.10 2148.8,291.10 2149.6,290.63 2150.3,291.29 2151.1,290.71 2151.8,290.60 2152.6,291.36 2153.3,291.39 2154.1,291.37 2154.8,291.35 2155.6,291.14 2156.3,291.01 2157.1,290.97 2157.8,291.00 2158.6,290.96 2159.3,291.01 2160.1,290.99 2160.8,290.97 2161.6,291.33 2162.3,291.33 2163.1,291.38 2163.8,291.35 2164.6,291.20 2165.3,291.01 2166.1,290.85 2166.8,291.10 2167.6,290.96 2168.3,291.07 2169.1,291.08 2169.8,290.97 2170.6,290.98 2171.3,291.01 2172.1,290.88 2172.8,291.10 2173.6,291.40 2174.3,291.20 2175.1,291.49 2175.8,291.39 2176.6,291.41 2177.3,291.30 2178.1,291.46 2178.8,291.39 2179.6,290.92 2180.3,290.93 2181.1,290.97 2181.8,291.16 2182.6,291.42 2183.3,291.32 2184.1,291.44 2184.8,291.35 2185.6,291.02 2186.3,291.12 2187.1,291.04 2187.8,291.08 2188.6,290.99 2189.3,291.05 2190.1,291.12 2190.8,291.08 2191.6,290.84 2192.3,290.65 2193.1,290.68 2193.8,290.65 2194.6,291.24 2195.3,291.43 2196.1,291.27 2196.8,291.43 2197.6,291.30 2198.3,291.35 2199.1,291.39 2199.8,291.41 2200.6,290.67 2201.3,290.79 2202.1,290.65 2202.8,290.89 2203.6,290.29 2204.3,290.33 2205.1,290.39 2205.8,290.41 2206.6,291.41 2207.3,291.46 2208.1,291.28 2208.8,291.32 2209.6,290.73 2210.3,290.74 2211.1,290.76 2211.8,290.69 2212.6,291.01 2213.3,291.05 2214.1,291.17 2214.8,291.08 2215.6,290.72 2216.3,290.75 2217.1,290.65 2217.8,290.83 2218.6,291.13 2219.3,291.11 2220.1,291.06 2220.8,291.19 2221.6,291.10 2222.3,291.02 2223.1,291.05 2223.8,291.75 2224.6,291.03 2225.3,291.00 2226.1,291.09 2226.8,291.11 2227.6,291.12 2228.3,290.97 2229.1,291.06 2229.8,290.98 2230.6,291.43 2231.3,291.39 2232.1,291.47 2232.8,291.52 2233.6,291.08 2234.3,290.97 2235.1,291.09 2235.8,291.01 2236.6,291.52 2237.3,291.37 2238.1,291.46 2238.8,291.43 2239.6,291.16 2240.3,291.07 2241.1,291.09 2241.8,291.02 2242.6,291.28 2243.3,291.14 2244.1,291.18 2244.8,291.13 2245.6,290.68 2246.3,290.74 2247.1,290.68 2247.8,290.72 2248.6,290.89 2249.3,290.81 2250.1,290.72 2250.8,290.67 2251.6,291.54 2252.3,291.52 2253.1,291.41 2253.8,291.32 2254.6,290.57 2255.3,290.86 2256.1,290.78 2256.8,290.58 2257.6,291.20 2258.3,290.96 2259.1,291.17 2259.8,291.05 2260.6,291.14 2261.3,291.13 2262.1,291.02 2262.8,291.16 2263.6,290.80 2264.3,290.60 2265.1,290.76 2265.8,290.82 2266.6,291.14 2267.3,291.07 2268.1,291.08 2268.8,291.06 2269.6,290.77 2270.3,290.76 2271.1,290.78 2271.8,290.77 2272.6,290.81 2273.3,290.66 2274.1,290.77 2274.8,290.85 2275.6,291.45 2276.3,291.41 2277.1,291.54 2277.8,291.53 2278.6,290.61 2279.3,290.67 2280.1,290.79 2280.8,290.84 2281.6,291.14 2282.3,291.04 2283.1,291.12 2283.8,291.23 2284.6,290.96 2285.3,290.96 2286.1,291.79 2286.8,291.11 2287.6,291.53 2288.3,291.57 2289.1,291.41 2289.8,291.52 2290.6,291.21 2291.3,291.05 2292.1,291.12 2292.8,291.05 2293.6,290.68 2294.3,290.68 2295.1,290.80 2295.8,290.70 2296.6,291.14 2297.3,291.09 2298.1,291.15 2298.8,291.09 2299.6,291.07 2300.3,291.23 2301.1,291.08 2301.8,291.18 2302.6,291.60 2303.3,291.61 2304.1,291.45" fill="none" stroke="#21479a" stroke-width="3.4" stroke-linejoin="round" stroke-linecap="butt"/>
<path d="M295.6,581.24 296.4,581.25 297.1,581.19 297.9,581.34 298.6,581.94 299.4,581.97 300.1,582.22 300.9,581.87 301.6,582.61 302.4,582.62 303.1,582.67 303.9,582.47 304.6,581.90 305.4,582.03 306.1,581.88 306.9,582.36 307.6,582.22 308.4,581.98 309.1,582.07 309.9,581.89 310.6,581.91 311.4,582.02 312.1,582.04 312.9,582.01 313.6,583.27 314.4,583.54 315.1,583.37 315.9,583.47 316.6,582.74 317.4,582.78 318.1,582.70 318.9,582.79 319.6,583.20 320.4,583.21 321.1,583.41 321.9,583.24 322.6,582.65 323.4,582.48 324.1,582.78 324.9,582.61 325.6,582.72 326.4,582.65 327.1,582.62 327.9,582.69 328.6,582.08 329.4,582.04 330.1,582.45 330.9,581.99 331.6,581.75 332.4,581.60 333.1,581.48 333.9,581.47 334.6,582.66 335.4,582.96 336.1,582.66 336.9,582.61 337.6,582.31 338.4,582.18 339.1,581.95 339.9,582.11 340.6,580.72 341.4,580.88 342.1,580.93 342.9,580.93 343.6,582.19 344.4,582.08 345.1,582.01 345.9,582.39 346.6,582.21 347.4,582.09 348.1,582.03 348.9,582.35 349.6,582.04 350.4,582.20 351.1,582.28 351.9,581.92 352.6,582.79 353.4,582.98 354.1,582.96 354.9,582.97 355.6,582.39 356.4,582.09 357.1,582.38 357.9,582.14 358.6,582.09 359.4,581.12 360.1,582.21 360.9,582.27 361.6,582.37 362.4,582.26 363.1,582.39 363.9,582.11 364.6,582.21 365.4,582.34 366.1,582.21 366.9,582.34 367.6,581.84 368.4,581.39 369.1,581.87 369.9,581.91 370.6,581.47 371.4,581.61 372.1,581.63 372.9,581.66 373.6,582.07 374.4,582.26 375.1,582.19 375.9,582.35 376.6,583.00 377.4,583.11 378.1,582.89 378.9,582.93 379.6,582.26 380.4,582.43 381.1,582.46 381.9,582.19 382.6,582.66 383.4,582.55 384.1,582.34 384.9,582.18 385.6,582.10 386.4,582.21 387.1,582.55 387.9,582.45 388.6,582.85 389.4,582.89 390.1,583.04 390.9,582.86 391.6,582.27 392.4,582.66 393.1,582.15 393.9,582.52 394.6,581.70 395.4,581.83 396.1,581.77 396.9,581.71 397.6,582.35 398.4,582.36 399.1,582.67 399.9,582.34 400.6,582.18 401.4,582.45 402.1,582.42 402.9,582.10 403.6,582.92 404.4,582.74 405.1,582.88 405.9,582.65 406.6,582.08 407.4,581.85 408.1,581.79 408.9,581.41 409.6,581.69 410.4,581.06 411.1,580.82 411.9,580.21 412.6,577.70 413.4,577.31 414.1,576.95 414.9,576.48 415.6,578.61 416.4,578.92 417.1,579.29 417.9,579.89 418.6,579.96 419.4,580.59 420.1,580.83 420.9,581.16 421.6,581.61 422.4,581.90 423.1,581.98 423.9,582.13 424.6,582.81 425.4,582.92 426.1,583.15 426.9,582.94 427.6,583.02 428.4,582.94 429.1,583.08 429.9,583.17 430.6,582.55 431.4,582.46 432.1,582.43 432.9,582.49 433.6,581.82 434.4,581.78 435.1,581.75 435.9,582.12 436.6,582.39 437.4,582.42 438.1,582.76 438.9,582.67 439.6,582.44 440.4,582.51 441.1,582.65 441.9,582.56 442.6,583.20 443.4,583.20 444.1,583.18 444.9,583.33 445.6,582.65 446.4,582.53 447.1,582.64 447.9,582.63 448.6,583.25 449.4,583.31 450.1,583.17 450.9,583.28 451.6,582.07 452.4,582.05 453.1,582.20 453.9,582.22 454.6,582.68 455.4,582.73 456.1,582.69 456.9,582.70 457.6,582.14 458.4,582.05 459.1,582.04 459.9,582.10 460.6,581.96 461.4,582.04 462.1,582.16 462.9,581.88 463.6,582.25 464.4,582.27 465.1,582.13 465.9,582.12 466.6,582.56 467.4,582.73 468.1,582.68 468.9,582.68 469.6,583.30 470.4,583.33 471.1,583.02 471.9,583.33 472.6,581.43 473.4,581.50 474.1,581.43 474.9,581.86 475.6,582.76 476.4,583.01 477.1,582.57 477.9,582.78 478.6,582.81 479.4,583.05 480.1,582.67 480.9,582.68 481.6,583.28 482.4,583.18 483.1,583.55 483.9,583.33 484.6,582.09 485.4,582.34 486.1,582.08 486.9,582.02 487.6,583.23 488.4,583.35 489.1,583.23 489.9,583.10 490.6,582.67 491.4,582.76 492.1,582.69 492.9,582.59 493.6,583.30 494.4,583.35 495.1,583.30 495.9,583.16 496.6,582.43 497.4,582.50 498.1,582.60 498.9,582.64 499.6,582.78 500.4,582.81 501.1,582.62 501.9,582.47 502.6,583.15 503.4,583.05 504.1,583.14 504.9,582.91 505.6,582.59 506.4,582.55 507.1,582.35 507.9,582.24 508.6,582.93 509.4,582.85 510.1,582.86 510.9,582.58 511.6,582.01 512.4,581.70 513.1,581.48 513.9,581.17 514.6,580.79 515.4,580.34 516.1,580.12 516.9,579.53 517.6,578.68 518.4,578.32 519.1,578.10 519.9,578.04 520.6,579.48 521.4,580.07 522.1,580.31 522.9,580.61 523.6,580.82 524.4,581.30 525.1,581.53 525.9,581.65 526.6,581.09 527.4,581.56 528.1,580.20 528.9,581.29 529.6,581.79 530.4,581.93 531.1,581.98 531.9,581.64 532.6,579.55 533.4,579.81 534.1,579.49 534.9,579.16 535.6,579.88 536.4,579.84 537.1,579.27 537.9,578.59 538.6,577.79 539.4,577.17 540.1,575.41 540.9,573.68 541.6,571.31 542.4,568.26 543.1,563.82 543.9,559.06 544.6,553.38 545.4,547.08 546.1,540.32 546.9,533.69 547.6,527.86 548.4,523.48 549.1,521.49 549.9,521.13 550.6,524.88 551.4,529.68 552.1,536.13 552.9,542.93 553.6,549.94 554.4,556.26 555.1,561.56 555.9,565.77 556.6,568.93 557.4,571.97 558.1,574.16 558.9,575.78 559.6,576.95 560.4,577.76 561.1,578.37 561.9,578.97 562.6,580.67 563.4,580.67 564.1,581.11 564.9,581.06 565.6,580.79 566.4,581.05 567.1,581.04 567.9,581.39 568.6,581.39 569.4,581.61 570.1,581.76 570.9,582.05 571.6,581.84 572.4,581.92 573.1,582.04 573.9,581.79 574.6,581.55 575.4,581.52 576.1,581.37 576.9,581.38 577.6,581.62 578.4,581.46 579.1,581.49 579.9,581.21 580.6,581.49 581.4,581.47 582.1,581.07 582.9,580.55 583.6,580.88 584.4,580.45 585.1,580.15 585.9,580.23 586.6,579.13 587.4,579.47 588.1,579.97 588.9,580.24 589.6,581.90 590.4,581.96 591.1,582.42 591.9,582.47 592.6,581.66 593.4,581.67 594.1,581.66 594.9,581.77 595.6,582.40 596.4,582.29 597.1,582.26 597.9,582.16 598.6,582.21 599.4,582.32 600.1,582.29 600.9,582.12 601.6,582.82 602.4,582.67 603.1,582.58 603.9,582.64 604.6,582.50 605.4,582.51 606.1,582.34 606.9,582.35 607.6,581.55 608.4,581.35 609.1,581.21 609.9,580.87 610.6,580.89 611.4,580.39 612.1,579.61 612.9,578.56 613.6,576.89 614.4,575.30 615.1,573.52 615.9,571.76 616.6,570.32 617.4,568.89 618.1,567.70 618.9,567.78 619.6,568.72 620.4,569.65 621.1,571.23 621.9,572.70 622.6,573.98 623.4,574.85 624.1,575.62 624.9,576.07 625.6,575.85 626.4,575.46 627.1,574.40 627.9,572.67 628.6,569.75 629.4,566.37 630.1,562.12 630.9,556.46 631.6,551.10 632.4,543.63 633.1,535.27 633.9,527.23 634.6,519.46 635.4,513.95 636.1,511.78 636.9,513.10 637.6,518.22 638.4,525.17 639.1,533.23 639.9,541.43 640.6,549.43 641.4,556.28 642.1,561.88 642.9,567.07 643.6,571.16 644.4,574.03 645.1,576.16 645.9,577.68 646.6,577.64 647.4,578.53 648.1,577.98 648.9,579.31 649.6,580.56 650.4,580.58 651.1,580.59 651.9,581.05 652.6,580.47 653.4,580.77 654.1,580.41 654.9,580.62 655.6,580.86 656.4,580.53 657.1,580.15 657.9,579.86 658.6,578.75 659.4,578.66 660.1,578.88 660.9,579.32 661.6,580.22 662.4,580.60 663.1,580.93 663.9,581.31 664.6,581.51 665.4,581.50 666.1,581.58 666.9,581.67 667.6,581.87 668.4,581.81 669.1,581.72 669.9,581.78 670.6,582.42 671.4,582.51 672.1,582.24 672.9,582.27 673.6,581.46 674.4,581.07 675.1,581.04 675.9,581.03 676.6,582.22 677.4,582.20 678.1,582.19 678.9,582.11 679.6,580.90 680.4,580.89 681.1,580.87 681.9,580.86 682.6,581.38 683.4,581.37 684.1,581.33 684.9,581.25 685.6,581.66 686.4,581.57 687.1,581.37 687.9,581.43 688.6,581.22 689.4,581.10 690.1,580.76 690.9,580.96 691.6,580.21 692.4,580.08 693.1,579.83 693.9,579.80 694.6,579.14 695.4,578.89 696.1,578.77 696.9,578.37 697.6,577.75 698.4,577.43 699.1,577.14 699.9,576.76 700.6,578.01 701.4,577.54 702.1,577.23 702.9,577.06 703.6,575.35 704.4,574.76 705.1,574.16 705.9,573.33 706.6,572.71 707.4,571.90 708.1,570.95 708.9,568.91 709.6,568.18 710.4,567.50 711.1,565.65 711.9,563.38 712.6,560.78 713.4,557.28 714.1,552.64 714.9,547.26 715.6,539.95 716.4,530.86 717.1,520.02 717.9,506.80 718.6,491.40 719.4,473.42 720.1,452.63 720.9,430.15 721.6,405.40 722.4,381.53 723.1,359.60 723.9,341.56 724.6,330.14 725.4,326.10 726.1,331.19 726.9,343.98 727.6,362.38 728.4,384.85 729.1,408.58 729.9,432.29 730.6,455.04 731.4,475.37 732.1,493.53 732.9,508.80 733.6,522.10 734.4,532.33 735.1,541.33 735.9,547.97 736.6,554.07 737.4,558.52 738.1,561.98 738.9,564.69 739.6,566.30 740.4,568.14 741.1,569.60 741.9,570.72 742.6,571.41 743.4,572.52 744.1,573.17 744.9,573.88 745.6,576.33 746.4,576.80 747.1,577.31 747.9,577.81 748.6,576.78 749.4,577.19 750.1,577.38 750.9,577.97 751.6,578.17 752.4,578.37 753.1,578.73 753.9,579.00 754.6,579.82 755.4,579.94 756.1,580.35 756.9,580.41 757.6,582.09 758.4,581.12 759.1,581.51 759.9,581.35 760.6,581.10 761.4,581.26 762.1,581.52 762.9,581.48 763.6,581.66 764.4,581.69 765.1,581.89 765.9,581.99 766.6,582.17 767.4,583.01 768.1,583.19 768.9,583.53 769.6,583.03 770.4,583.04 771.1,582.90 771.9,583.11 772.6,582.08 773.4,582.24 774.1,582.21 774.9,582.24 775.6,582.85 776.4,583.18 777.1,583.17 777.9,582.99 778.6,582.95 779.4,583.00 780.1,583.35 780.9,583.28 781.6,583.43 782.4,583.37 783.1,583.36 783.9,583.28 784.6,584.03 785.4,584.06 786.1,584.12 786.9,584.13 787.6,583.62 788.4,583.31 789.1,583.63 789.9,583.58 790.6,583.68 791.4,583.55 792.1,583.79 792.9,583.54 793.6,584.18 794.4,584.44 795.1,584.32 795.9,584.34 796.6,584.54 797.4,584.32 798.1,584.54 798.9,584.39 799.6,583.48 800.4,583.53 801.1,583.33 801.9,583.31 802.6,584.40 803.4,584.68 804.1,584.80 804.9,584.59 805.6,583.98 806.4,584.11 807.1,584.14 807.9,584.10 808.6,583.61 809.4,583.88 810.1,583.63 810.9,583.77 811.6,583.70 812.4,583.66 813.1,583.69 813.9,583.64 814.6,583.75 815.4,583.80 816.1,583.88 816.9,583.76 817.6,585.01 818.4,584.82 819.1,584.97 819.9,584.91 820.6,583.90 821.4,583.98 822.1,583.93 822.9,583.98 823.6,583.99 824.4,583.98 825.1,583.95 825.9,584.03 826.6,584.57 827.4,584.75 828.1,584.63 828.9,584.56 829.6,585.18 830.4,585.01 831.1,584.88 831.9,585.04 832.6,584.64 833.4,584.43 834.1,584.45 834.9,584.56 835.6,584.15 836.4,584.30 837.1,584.12 837.9,584.15 838.6,584.70 839.4,584.63 840.1,584.65 840.9,584.79 841.6,584.75 842.4,584.62 843.1,584.71 843.9,584.60 844.6,585.07 845.4,585.19 846.1,585.12 846.9,585.24 847.6,585.16 848.4,585.39 849.1,585.32 849.9,585.32 850.6,584.23 851.4,584.55 852.1,584.23 852.9,584.26 853.6,584.77 854.4,584.73 855.1,584.94 855.9,584.92 856.6,584.91 857.4,584.88 858.1,584.78 858.9,585.06 859.6,584.94 860.4,585.08 861.1,584.99 861.9,585.03 862.6,585.37 863.4,585.51 864.1,585.56 864.9,585.43 865.6,585.41 866.4,585.40 867.1,585.37 867.9,585.58 868.6,585.01 869.4,585.02 870.1,584.97 870.9,585.08 871.6,584.47 872.4,584.48 873.1,584.57 873.9,584.46 874.6,585.08 875.4,585.21 876.1,585.17 876.9,585.23 877.6,584.96 878.4,585.12 879.1,585.37 879.9,585.29 880.6,585.16 881.4,585.11 882.1,585.15 882.9,585.19 883.6,585.24 884.4,585.29 885.1,585.28 885.9,585.17 886.6,584.84 887.4,584.61 888.1,584.77 888.9,584.80 889.6,584.40 890.4,584.22 891.1,584.31 891.9,584.25 892.6,585.78 893.4,585.72 894.1,585.93 894.9,585.62 895.6,585.21 896.4,585.31 897.1,585.37 897.9,585.35 898.6,584.85 899.4,584.80 900.1,584.83 900.9,584.82 901.6,585.29 902.4,585.36 903.1,585.36 903.9,585.48 904.6,585.77 905.4,585.68 906.1,585.79 906.9,585.76 907.6,584.34 908.4,584.42 909.1,584.59 909.9,584.37 910.6,585.42 911.4,585.47 912.1,585.22 912.9,585.27 913.6,585.78 914.4,585.91 915.1,585.88 915.9,585.98 916.6,585.92 917.4,585.89 918.1,586.67 918.9,585.87 919.6,585.56 920.4,585.35 921.1,585.51 921.9,585.38 922.6,585.58 923.4,585.39 924.1,585.48 924.9,585.61 925.6,584.94 926.4,585.05 927.1,585.04 927.9,584.97 928.6,585.32 929.4,585.53 930.1,585.52 930.9,585.35 931.6,585.40 932.4,585.41 933.1,585.44 933.9,585.57 934.6,584.99 935.4,585.06 936.1,584.73 936.9,584.94 937.6,585.15 938.4,584.96 939.1,585.04 939.9,585.01 940.6,585.39 941.4,585.64 942.1,585.49 942.9,585.37 943.6,585.02 944.4,585.01 945.1,585.05 945.9,584.94 946.6,584.95 947.4,585.06 948.1,586.04 948.9,585.12 949.6,586.12 950.4,585.85 951.1,586.12 951.9,585.97 952.6,586.08 953.4,585.98 954.1,586.01 954.9,585.99 955.6,585.14 956.4,585.04 957.1,584.99 957.9,584.90 958.6,585.53 959.4,585.50 960.1,585.60 960.9,585.65 961.6,585.48 962.4,585.55 963.1,585.70 963.9,585.75 964.6,585.56 965.4,585.73 966.1,585.62 966.9,585.56 967.6,586.18 968.4,585.91 969.1,586.02 969.9,586.06 970.6,585.72 971.4,585.66 972.1,585.79 972.9,585.77 973.6,584.68 974.4,584.59 975.1,584.66 975.9,584.63 976.6,585.51 977.4,585.69 978.1,585.66 978.9,585.61 979.6,585.05 980.4,585.12 981.1,585.19 981.9,585.04 982.6,585.50 983.4,585.49 984.1,585.61 984.9,585.79 985.6,585.54 986.4,586.39 987.1,585.73 987.9,585.69 988.6,585.71 989.4,585.61 990.1,585.60 990.9,585.76 991.6,586.10 992.4,586.25 993.1,586.21 993.9,586.20 994.6,585.77 995.4,585.66 996.1,585.60 996.9,585.64 997.6,585.07 998.4,585.06 999.1,585.19 999.9,585.20 1000.6,585.70 1001.4,585.83 1002.1,585.76 1002.9,585.88 1003.6,585.83 1004.4,585.61 1005.1,585.60 1005.9,585.73 1006.6,586.17 1007.4,586.17 1008.1,585.93 1008.9,586.18 1009.6,585.66 1010.4,585.76 1011.1,585.78 1011.9,585.58 1012.6,585.21 1013.4,585.26 1014.1,585.39 1014.9,585.32 1015.6,585.29 1016.4,585.39 1017.1,585.39 1017.9,585.30 1018.6,585.73 1019.4,585.77 1020.1,585.93 1020.9,585.75 1021.6,585.89 1022.4,585.76 1023.1,585.83 1023.9,585.60 1024.6,586.13 1025.3,586.13 1026.1,586.19 1026.8,586.10 1027.6,586.26 1028.3,586.15 1029.1,586.05 1029.8,586.38 1030.6,585.96 1031.3,585.81 1032.1,585.79 1032.8,585.84 1033.6,585.44 1034.3,585.36 1035.1,585.48 1035.8,585.36 1036.6,585.38 1037.3,585.24 1038.1,585.41 1038.8,585.38 1039.6,585.96 1040.3,585.81 1041.1,585.88 1041.8,585.85 1042.6,585.73 1043.3,585.86 1044.1,585.72 1044.8,585.78 1045.6,585.74 1046.3,585.71 1047.1,585.75 1047.8,585.85 1048.6,586.36 1049.3,586.23 1050.1,586.22 1050.8,586.22 1051.6,584.75 1052.3,584.87 1053.1,584.81 1053.8,584.99 1054.6,585.96 1055.3,585.90 1056.1,585.92 1056.8,585.79 1057.6,585.73 1058.3,585.90 1059.1,585.85 1059.8,585.85 1060.6,585.78 1061.3,585.92 1062.1,585.85 1062.8,585.89 1063.6,585.92 1064.3,585.93 1065.1,585.71 1065.8,585.90 1066.6,586.42 1067.3,586.31 1068.1,586.34 1068.8,586.30 1069.6,585.87 1070.3,585.90 1071.1,585.04 1071.8,585.93 1072.6,586.01 1073.3,585.82 1074.1,585.86 1074.8,585.86 1075.6,586.36 1076.3,586.24 1077.1,586.33 1077.8,586.59 1078.6,585.79 1079.3,585.79 1080.1,585.89 1080.8,585.99 1081.6,586.36 1082.3,586.43 1083.1,586.28 1083.8,586.37 1084.6,585.93 1085.3,585.91 1086.1,585.86 1086.8,585.85 1087.6,585.76 1088.3,585.94 1089.1,585.78 1089.8,585.92 1090.6,585.90 1091.3,585.81 1092.1,585.88 1092.8,585.90 1093.6,585.93 1094.3,585.84 1095.1,586.03 1095.8,585.82 1096.6,585.85 1097.3,585.83 1098.1,585.73 1098.8,585.78 1099.6,585.41 1100.3,585.42 1101.1,585.31 1101.8,585.45 1102.6,585.90 1103.3,585.88 1104.1,585.99 1104.8,585.77 1105.6,585.82 1106.3,585.74 1107.1,585.90 1107.8,585.83 1108.6,585.78 1109.3,585.78 1110.1,585.61 1110.8,585.84 1111.6,585.96 1112.3,585.80 1113.1,585.81 1113.8,585.92 1114.6,586.11 1115.3,586.22 1116.1,586.26 1116.8,586.19 1117.6,585.66 1118.3,585.59 1119.1,585.80 1119.8,585.79 1120.6,586.25 1121.3,586.14 1122.1,586.26 1122.8,586.20 1123.6,585.70 1124.3,585.79 1125.1,585.65 1125.8,585.65 1126.6,585.18 1127.3,585.28 1128.1,585.21 1128.8,585.25 1129.6,585.66 1130.3,585.52 1131.1,585.70 1131.8,585.68 1132.6,585.61 1133.3,585.75 1134.1,585.61 1134.8,585.56 1135.6,585.13 1136.3,585.22 1137.1,585.13 1137.8,585.17 1138.6,585.55 1139.3,585.51 1140.1,585.44 1140.8,585.50 1141.6,585.55 1142.3,585.47 1143.1,585.45 1143.8,585.48 1144.6,585.31 1145.3,585.35 1146.1,585.34 1146.8,585.38 1147.6,585.28 1148.3,585.41 1149.1,585.21 1149.8,584.96 1150.6,584.62 1151.3,584.52 1152.1,584.36 1152.8,584.22 1153.6,584.29 1154.3,584.06 1155.1,583.79 1155.8,583.67 1156.6,583.35 1157.3,582.74 1158.1,582.39 1158.8,581.81 1159.6,581.37 1160.3,580.42 1161.1,579.28 1161.8,577.89 1162.6,576.77 1163.3,574.94 1164.1,572.93 1164.8,570.78 1165.6,568.32 1166.3,565.58 1167.1,563.11 1167.8,560.68 1168.6,557.82 1169.3,555.87 1170.1,554.24 1170.8,553.18 1171.6,552.85 1172.3,552.95 1173.1,554.07 1173.8,555.32 1174.6,557.22 1175.3,559.64 1176.1,561.98 1176.8,564.68 1177.6,567.07 1178.3,569.48 1179.1,571.83 1179.8,573.96 1180.6,575.46 1181.3,577.14 1182.1,578.40 1182.8,579.76 1183.6,581.13 1184.3,582.01 1185.1,582.58 1185.8,583.08 1186.6,584.01 1187.3,584.32 1188.1,584.66 1188.8,584.88 1189.6,584.60 1190.3,584.72 1191.1,584.92 1191.8,585.00 1192.6,585.01 1193.3,585.10 1194.1,585.04 1194.8,585.21 1195.6,585.20 1196.3,585.29 1197.1,585.07 1197.8,585.45 1198.6,584.47 1199.3,584.61 1200.1,584.45 1200.8,584.56 1201.6,585.52 1202.3,585.41 1203.1,585.50 1203.8,585.61 1204.6,585.60 1205.3,585.72 1206.1,585.68 1206.8,585.60 1207.6,585.19 1208.3,585.28 1209.1,585.43 1209.8,585.01 1210.6,585.38 1211.3,585.30 1212.1,585.09 1212.8,585.19 1213.6,585.30 1214.3,585.39 1215.1,585.14 1215.8,585.31 1216.6,585.65 1217.3,585.80 1218.1,585.79 1218.8,585.68 1219.6,585.84 1220.3,585.78 1221.1,585.58 1221.8,585.82 1222.6,585.38 1223.3,585.33 1224.1,585.34 1224.8,585.38 1225.6,585.83 1226.3,585.99 1227.1,585.83 1227.8,585.96 1228.6,585.45 1229.3,585.42 1230.1,585.42 1230.8,585.35 1231.6,585.84 1232.3,585.68 1233.1,585.84 1233.8,585.78 1234.6,585.87 1235.3,585.83 1236.1,585.91 1236.8,585.71 1237.6,586.21 1238.3,586.28 1239.1,586.41 1239.8,586.08 1240.6,585.76 1241.3,585.72 1242.1,586.01 1242.8,585.88 1243.6,586.38 1244.3,586.22 1245.1,586.24 1245.8,586.36 1246.6,585.45 1247.3,585.48 1248.1,585.61 1248.8,585.38 1249.6,586.36 1250.3,586.15 1251.1,586.18 1251.8,586.26 1252.6,585.94 1253.3,585.87 1254.1,585.81 1254.8,585.78 1255.6,585.85 1256.3,585.66 1257.1,586.03 1257.8,585.85 1258.6,585.91 1259.3,586.01 1260.1,586.02 1260.8,585.91 1261.6,586.61 1262.3,586.75 1263.1,586.67 1263.8,586.87 1264.6,585.76 1265.3,585.78 1266.1,585.69 1266.8,585.85 1267.6,585.85 1268.3,585.86 1269.1,585.97 1269.8,585.86 1270.6,585.07 1271.3,585.10 1272.1,585.10 1272.8,584.94 1273.6,585.78 1274.3,585.89 1275.1,585.77 1275.8,585.94 1276.6,585.39 1277.3,585.49 1278.1,585.37 1278.8,585.39 1279.6,586.42 1280.3,586.18 1281.1,586.27 1281.8,586.25 1282.6,585.91 1283.3,585.90 1284.1,585.92 1284.8,585.85 1285.6,585.40 1286.3,585.47 1287.1,585.54 1287.8,585.42 1288.6,585.73 1289.3,585.94 1290.1,586.02 1290.8,585.73 1291.6,585.42 1292.3,585.57 1293.1,585.39 1293.8,585.40 1294.6,585.65 1295.3,585.69 1296.1,585.88 1296.8,585.83 1297.6,586.24 1298.3,586.48 1299.1,586.42 1299.8,586.42 1300.6,585.84 1301.3,585.77 1302.1,585.89 1302.8,585.83 1303.6,585.72 1304.3,586.02 1305.1,585.81 1305.8,585.82 1306.6,586.05 1307.3,585.77 1308.1,585.86 1308.8,585.80 1309.6,585.48 1310.3,585.53 1311.1,585.47 1311.8,585.48 1312.6,585.78 1313.3,585.79 1314.1,585.81 1314.8,585.95 1315.6,586.38 1316.3,586.24 1317.1,586.39 1317.8,586.24 1318.6,585.74 1319.3,585.80 1320.1,585.79 1320.8,585.90 1321.6,586.41 1322.3,586.31 1323.1,586.14 1323.8,586.11 1324.6,585.49 1325.3,585.31 1326.1,585.22 1326.8,585.43 1327.6,585.77 1328.3,585.77 1329.1,585.72 1329.8,585.75 1330.6,585.76 1331.3,585.82 1332.1,585.84 1332.8,585.92 1333.6,585.85 1334.3,585.70 1335.1,585.65 1335.8,585.55 1336.6,586.21 1337.3,586.07 1338.1,586.08 1338.8,586.04 1339.6,585.58 1340.3,585.72 1341.1,585.53 1341.8,585.57 1342.6,585.14 1343.3,585.08 1344.1,585.07 1344.8,584.95 1345.6,586.00 1346.3,585.83 1347.1,585.81 1347.8,585.67 1348.6,585.44 1349.3,585.23 1350.1,585.14 1350.8,585.07 1351.6,585.40 1352.3,585.39 1353.1,585.35 1353.8,585.24 1354.6,584.80 1355.3,584.70 1356.1,584.46 1356.8,584.30 1357.6,584.50 1358.3,584.30 1359.1,584.20 1359.8,584.14 1360.6,584.23 1361.3,584.10 1362.1,584.26 1362.8,584.18 1363.6,584.15 1364.3,584.16 1365.1,584.11 1365.8,584.35 1366.6,584.34 1367.3,584.46 1368.1,584.51 1368.8,584.68 1369.6,585.03 1370.3,585.18 1371.1,585.31 1371.8,585.19 1372.6,584.96 1373.3,584.97 1374.1,585.02 1374.8,585.18 1375.6,585.72 1376.3,585.77 1377.1,585.63 1377.8,585.73 1378.6,585.39 1379.3,585.62 1380.1,585.64 1380.8,585.55 1381.6,585.96 1382.3,586.08 1383.1,586.20 1383.8,585.97 1384.6,585.07 1385.3,585.24 1386.1,585.26 1386.8,585.31 1387.6,585.44 1388.3,585.34 1389.1,585.18 1389.8,585.41 1390.6,585.72 1391.3,585.72 1392.1,585.77 1392.8,585.86 1393.6,585.80 1394.3,585.75 1395.1,585.88 1395.8,585.88 1396.6,585.16 1397.3,585.32 1398.1,585.24 1398.8,585.37 1399.6,585.84 1400.3,585.74 1401.1,585.76 1401.8,585.73 1402.6,585.38 1403.3,585.46 1404.1,585.37 1404.8,585.44 1405.6,585.85 1406.3,585.83 1407.1,585.79 1407.8,585.82 1408.6,585.90 1409.3,586.56 1410.1,585.78 1410.8,585.83 1411.6,585.92 1412.3,585.93 1413.1,585.83 1413.8,585.94 1414.6,586.18 1415.3,586.26 1416.1,586.18 1416.8,586.09 1417.6,585.75 1418.3,585.73 1419.1,585.82 1419.8,585.86 1420.6,586.19 1421.3,586.05 1422.1,586.09 1422.8,586.19 1423.6,585.19 1424.3,585.17 1425.1,585.24 1425.8,585.16 1426.6,585.57 1427.3,585.53 1428.1,585.37 1428.8,585.28 1429.6,585.23 1430.3,585.01 1431.1,584.74 1431.8,584.86 1432.6,584.00 1433.3,583.74 1434.1,583.66 1434.8,583.47 1435.6,583.32 1436.3,583.39 1437.1,583.42 1437.8,583.53 1438.6,584.17 1439.3,584.49 1440.1,584.63 1440.8,584.82 1441.6,584.66 1442.3,584.82 1443.1,584.95 1443.8,585.01 1444.6,585.50 1445.3,585.61 1446.1,585.60 1446.8,585.47 1447.6,586.18 1448.3,586.03 1449.1,586.27 1449.8,586.11 1450.6,585.74 1451.3,585.69 1452.1,585.75 1452.8,585.82 1453.6,585.24 1454.3,585.31 1455.1,585.50 1455.8,585.35 1456.6,585.84 1457.3,585.74 1458.1,585.79 1458.8,585.90 1459.6,586.23 1460.3,586.33 1461.1,586.20 1461.8,586.08 1462.6,586.25 1463.3,586.28 1464.1,586.33 1464.8,586.30 1465.6,585.52 1466.3,585.40 1467.1,585.43 1467.8,585.50 1468.6,586.32 1469.3,586.26 1470.1,586.36 1470.8,586.33 1471.6,585.89 1472.3,585.70 1473.1,585.93 1473.8,586.01 1474.6,586.26 1475.3,586.31 1476.1,586.25 1476.8,586.26 1477.6,585.97 1478.3,585.90 1479.1,586.04 1479.8,585.78 1480.6,585.50 1481.3,585.61 1482.1,585.48 1482.8,585.55 1483.6,586.38 1484.3,586.23 1485.1,586.34 1485.8,586.18 1486.6,585.58 1487.3,585.61 1488.1,585.39 1488.8,585.56 1489.6,585.80 1490.3,585.90 1491.1,586.01 1491.8,585.86 1492.6,585.58 1493.3,585.50 1494.1,585.62 1494.8,585.65 1495.6,586.05 1496.3,586.13 1497.1,585.97 1497.8,585.88 1498.6,585.89 1499.3,585.91 1500.1,585.98 1500.8,585.86 1501.6,586.41 1502.3,586.32 1503.1,586.29 1503.8,586.25 1504.6,585.45 1505.3,585.52 1506.1,585.52 1506.8,585.64 1507.6,585.61 1508.3,585.67 1509.1,585.48 1509.8,585.46 1510.6,585.50 1511.3,585.61 1512.1,585.49 1512.8,585.47 1513.6,585.84 1514.3,585.86 1515.1,585.78 1515.8,585.76 1516.6,585.41 1517.3,585.48 1518.1,585.46 1518.8,585.56 1519.6,586.00 1520.3,585.71 1521.1,585.89 1521.8,585.75 1522.6,585.82 1523.3,585.82 1524.1,585.78 1524.8,585.83 1525.6,585.59 1526.3,585.68 1527.1,585.68 1527.8,585.77 1528.6,585.62 1529.3,585.72 1530.1,585.52 1530.8,585.60 1531.6,585.56 1532.3,585.54 1533.1,585.53 1533.8,585.49 1534.6,585.87 1535.3,585.79 1536.1,585.68 1536.8,585.65 1537.6,585.20 1538.3,585.12 1539.1,584.82 1539.8,583.99 1540.6,584.21 1541.3,583.83 1542.1,583.75 1542.8,583.12 1543.6,583.16 1544.3,582.69 1545.1,581.32 1545.8,581.29 1546.6,580.40 1547.3,579.58 1548.1,578.36 1548.8,577.09 1549.6,575.22 1550.3,573.83 1551.1,572.10 1551.8,570.48 1552.6,569.47 1553.3,567.79 1554.1,566.05 1554.8,564.56 1555.6,563.42 1556.3,562.29 1557.1,561.37 1557.8,560.69 1558.6,559.98 1559.3,559.96 1560.1,560.54 1560.8,561.54 1561.6,561.89 1562.3,563.38 1563.1,564.85 1563.8,566.71 1564.6,568.69 1565.3,570.57 1566.1,572.25 1566.8,573.90 1567.6,574.99 1568.3,576.41 1569.1,577.89 1569.8,578.81 1570.6,580.23 1571.3,581.22 1572.1,582.06 1572.8,582.52 1573.6,582.75 1574.3,583.29 1575.1,583.61 1575.8,584.04 1576.6,584.67 1577.3,584.90 1578.1,584.93 1578.8,585.07 1579.6,586.18 1580.3,585.32 1581.1,585.59 1581.8,585.56 1582.6,586.07 1583.3,586.17 1584.1,586.02 1584.8,586.32 1585.6,585.16 1586.3,585.78 1587.1,585.83 1587.8,585.91 1588.6,586.19 1589.3,586.27 1590.1,586.33 1590.8,586.54 1591.6,585.44 1592.3,585.61 1593.1,585.63 1593.8,585.66 1594.6,585.65 1595.3,585.60 1596.1,585.73 1596.8,585.69 1597.6,586.14 1598.3,586.27 1599.1,586.10 1599.8,586.17 1600.6,585.81 1601.3,585.83 1602.1,585.86 1602.8,585.94 1603.6,585.72 1604.3,585.85 1605.1,585.71 1605.8,586.01 1606.6,585.37 1607.3,585.35 1608.1,585.50 1608.8,585.48 1609.6,586.40 1610.3,586.36 1611.1,586.39 1611.8,586.24 1612.6,586.64 1613.3,586.80 1614.1,586.69 1614.8,586.78 1615.6,586.40 1616.3,586.35 1617.1,586.35 1617.8,586.38 1618.6,586.48 1619.3,586.41 1620.1,586.48 1620.8,586.52 1621.6,586.35 1622.3,586.44 1623.1,586.46 1623.8,586.37 1624.6,586.97 1625.3,586.90 1626.1,586.78 1626.8,586.79 1627.6,586.55 1628.3,586.26 1629.1,586.47 1629.8,586.52 1630.6,586.74 1631.3,586.79 1632.1,586.82 1632.8,586.87 1633.6,586.61 1634.3,586.51 1635.1,586.56 1635.8,586.39 1636.6,586.02 1637.3,586.10 1638.1,586.12 1638.8,586.12 1639.6,586.95 1640.3,586.87 1641.1,586.85 1641.8,586.99 1642.6,586.02 1643.3,586.21 1644.1,586.01 1644.8,586.23 1645.6,586.09 1646.3,586.21 1647.1,586.19 1647.8,586.10 1648.6,586.01 1649.3,586.31 1650.1,586.21 1650.8,586.13 1651.6,586.55 1652.3,586.47 1653.1,586.58 1653.8,586.60 1654.6,586.12 1655.3,586.26 1656.1,586.18 1656.8,586.10 1657.6,586.61 1658.3,586.51 1659.1,586.61 1659.8,586.58 1660.6,585.80 1661.3,585.77 1662.1,585.71 1662.8,585.91 1663.6,586.09 1664.3,586.23 1665.1,586.25 1665.8,586.27 1666.6,586.51 1667.3,586.69 1668.1,586.69 1668.8,586.69 1669.6,586.54 1670.3,586.66 1671.1,586.51 1671.8,586.57 1672.6,586.52 1673.3,586.52 1674.1,586.56 1674.8,586.55 1675.6,587.08 1676.3,586.97 1677.1,587.11 1677.8,587.00 1678.6,586.20 1679.3,586.25 1680.1,586.01 1680.8,586.25 1681.6,586.66 1682.3,586.48 1683.1,586.49 1683.8,586.48 1684.6,586.61 1685.3,586.61 1686.1,586.56 1686.8,586.55 1687.6,586.23 1688.3,586.14 1689.1,586.18 1689.8,586.31 1690.6,586.48 1691.3,586.59 1692.1,586.65 1692.8,586.52 1693.6,586.63 1694.3,586.52 1695.1,586.67 1695.8,586.44 1696.6,587.02 1697.3,587.03 1698.1,587.07 1698.8,587.01 1699.6,586.74 1700.3,586.50 1701.1,586.66 1701.8,586.47 1702.6,586.49 1703.3,586.45 1704.1,586.28 1704.8,586.60 1705.6,586.14 1706.3,586.23 1707.1,586.19 1707.8,586.29 1708.6,586.61 1709.3,586.49 1710.1,586.84 1710.8,586.46 1711.6,586.91 1712.3,586.83 1713.1,586.92 1713.8,587.05 1714.6,586.26 1715.3,586.23 1716.1,586.17 1716.8,586.23 1717.6,586.60 1718.3,586.49 1719.1,586.49 1719.8,586.54 1720.6,586.99 1721.3,586.86 1722.1,586.96 1722.8,586.94 1723.6,587.03 1724.3,586.88 1725.1,586.99 1725.8,586.94 1726.6,586.04 1727.3,586.03 1728.1,586.17 1728.8,585.94 1729.6,586.30 1730.3,586.07 1731.1,586.14 1731.8,586.14 1732.6,586.91 1733.3,586.94 1734.1,587.03 1734.8,586.85 1735.6,586.40 1736.3,586.62 1737.1,586.54 1737.8,586.57 1738.6,586.61 1739.3,586.61 1740.1,586.57 1740.8,586.53 1741.6,586.60 1742.3,586.54 1743.1,586.58 1743.8,586.43 1744.6,586.85 1745.3,586.83 1746.1,586.87 1746.8,586.98 1747.6,586.61 1748.3,586.42 1749.1,586.52 1749.8,586.64 1750.6,586.48 1751.3,586.45 1752.1,586.44 1752.8,586.49 1753.6,586.53 1754.3,586.42 1755.1,586.38 1755.8,586.45 1756.6,586.45 1757.3,586.52 1758.1,586.48 1758.8,586.32 1759.6,585.67 1760.3,585.55 1761.1,585.60 1761.8,585.51 1762.6,586.41 1763.3,587.01 1764.1,586.44 1764.8,586.39 1765.6,586.24 1766.3,586.34 1767.1,586.38 1767.8,586.22 1768.6,586.67 1769.3,586.63 1770.1,586.74 1770.8,586.57 1771.6,586.55 1772.3,586.49 1773.1,586.58 1773.8,587.11 1774.6,586.14 1775.3,585.97 1776.1,585.89 1776.8,585.72 1777.6,585.65 1778.3,585.55 1779.1,585.26 1779.8,585.23 1780.6,585.02 1781.3,584.80 1782.1,584.49 1782.8,584.19 1783.6,583.81 1784.3,583.50 1785.1,583.37 1785.8,582.74 1786.6,581.76 1787.3,581.34 1788.1,580.75 1788.8,580.31 1789.6,579.98 1790.3,579.39 1791.1,578.77 1791.8,578.32 1792.6,578.03 1793.3,577.63 1794.1,577.35 1794.8,577.17 1795.6,577.11 1796.3,577.13 1797.1,577.46 1797.8,577.61 1798.6,577.96 1799.3,578.34 1800.1,578.94 1800.8,579.55 1801.6,580.42 1802.3,580.99 1803.1,581.55 1803.8,581.98 1804.6,581.69 1805.3,582.36 1806.1,582.75 1806.8,583.10 1807.6,583.56 1808.3,583.92 1809.1,584.14 1809.8,584.37 1810.6,584.58 1811.3,584.84 1812.1,585.03 1812.8,585.26 1813.6,585.31 1814.3,585.41 1815.1,585.58 1815.8,585.62 1816.6,585.97 1817.3,586.13 1818.1,586.10 1818.8,586.09 1819.6,586.05 1820.3,586.30 1821.1,586.32 1821.8,586.40 1822.6,586.01 1823.3,585.92 1824.1,585.82 1824.8,585.98 1825.6,586.43 1826.3,586.43 1827.1,586.40 1827.8,586.32 1828.6,586.44 1829.3,586.47 1830.1,586.39 1830.8,586.38 1831.6,586.36 1832.3,586.41 1833.1,586.45 1833.8,586.49 1834.6,586.76 1835.3,586.90 1836.1,586.89 1836.8,586.72 1837.6,586.09 1838.3,586.20 1839.1,585.96 1839.8,586.06 1840.6,586.44 1841.3,586.41 1842.1,586.63 1842.8,586.55 1843.6,585.81 1844.3,585.81 1845.1,585.77 1845.8,585.71 1846.6,586.40 1847.3,586.56 1848.1,586.58 1848.8,586.60 1849.6,586.40 1850.3,586.63 1851.1,586.36 1851.8,586.49 1852.6,586.49 1853.3,586.64 1854.1,586.44 1854.8,586.48 1855.6,586.91 1856.3,586.87 1857.1,586.98 1857.8,586.98 1858.6,586.63 1859.3,586.57 1860.1,586.49 1860.8,586.53 1861.6,586.56 1862.3,586.50 1863.1,586.50 1863.8,586.49 1864.6,586.54 1865.3,586.52 1866.1,586.64 1866.8,586.46 1867.6,586.70 1868.3,586.61 1869.1,587.23 1869.8,586.69 1870.6,585.90 1871.3,585.85 1872.1,585.69 1872.8,585.80 1873.6,586.20 1874.3,586.92 1875.1,586.19 1875.8,586.16 1876.6,586.18 1877.3,586.16 1878.1,586.29 1878.8,586.20 1879.6,586.66 1880.3,586.49 1881.1,586.56 1881.8,586.61 1882.6,586.18 1883.3,586.14 1884.1,586.18 1884.8,586.20 1885.6,586.98 1886.3,587.05 1887.1,586.96 1887.8,586.86 1888.6,586.19 1889.3,586.07 1890.1,586.20 1890.8,586.30 1891.6,586.71 1892.3,586.46 1893.1,586.64 1893.8,586.49 1894.6,585.63 1895.3,585.88 1896.1,585.90 1896.8,586.01 1897.6,586.70 1898.3,586.54 1899.1,586.61 1899.8,586.53 1900.6,586.17 1901.3,586.06 1902.1,586.10 1902.8,586.14 1903.6,587.00 1904.3,586.95 1905.1,587.01 1905.8,586.97 1906.6,586.25 1907.3,586.20 1908.1,586.10 1908.8,585.99 1909.6,586.94 1910.3,586.96 1911.1,586.90 1911.8,586.86 1912.6,586.77 1913.3,586.99 1914.1,586.83 1914.8,587.04 1915.6,586.13 1916.3,586.11 1917.1,586.22 1917.8,586.30 1918.6,586.54 1919.3,586.52 1920.1,586.53 1920.8,586.49 1921.6,585.97 1922.3,586.18 1923.1,586.22 1923.8,585.97 1924.6,587.26 1925.3,587.29 1926.1,587.22 1926.8,587.21 1927.6,587.59 1928.3,586.88 1929.1,586.98 1929.8,587.12 1930.6,586.54 1931.3,586.48 1932.1,586.59 1932.8,586.43 1933.6,586.59 1934.3,586.54 1935.1,586.43 1935.8,586.35 1936.6,585.80 1937.3,585.62 1938.1,585.71 1938.8,585.70 1939.6,586.10 1940.3,585.32 1941.1,585.93 1941.8,586.07 1942.6,586.83 1943.3,586.87 1944.1,586.78 1944.8,586.65 1945.6,586.63 1946.3,586.69 1947.1,586.60 1947.8,586.70 1948.6,586.30 1949.3,586.27 1950.1,586.30 1950.8,586.21 1951.6,586.15 1952.3,586.25 1953.1,586.06 1953.8,586.08 1954.6,586.11 1955.3,586.12 1956.1,585.96 1956.8,585.85 1957.6,586.11 1958.3,586.13 1959.1,586.04 1959.8,585.87 1960.6,585.60 1961.3,585.61 1962.1,585.17 1962.8,585.10 1963.6,584.86 1964.3,584.49 1965.1,584.16 1965.8,583.80 1966.6,582.75 1967.3,582.63 1968.1,582.03 1968.8,581.72 1969.6,580.85 1970.3,580.57 1971.1,580.25 1971.8,580.26 1972.6,581.20 1973.3,581.42 1974.1,581.47 1974.8,582.58 1975.6,581.55 1976.3,582.01 1977.1,582.37 1977.8,582.78 1978.6,583.11 1979.3,583.58 1980.1,583.90 1980.8,584.18 1981.6,585.13 1982.3,585.30 1983.1,585.51 1983.8,585.75 1984.6,585.32 1985.3,585.39 1986.1,585.44 1986.8,585.52 1987.6,586.00 1988.3,586.02 1989.1,585.90 1989.8,586.04 1990.6,585.27 1991.3,585.27 1992.1,586.07 1992.8,585.23 1993.6,585.67 1994.3,585.61 1995.1,585.70 1995.8,585.69 1996.6,585.54 1997.3,585.58 1998.1,585.52 1998.8,585.67 1999.6,585.44 2000.3,585.39 2001.1,585.33 2001.8,585.36 2002.6,585.32 2003.3,585.24 2004.1,585.09 2004.8,584.97 2005.6,584.92 2006.3,584.83 2007.1,584.68 2007.8,584.50 2008.6,584.32 2009.3,584.02 2010.1,583.88 2010.8,583.49 2011.6,583.72 2012.3,583.21 2013.1,582.79 2013.8,582.28 2014.6,580.87 2015.3,580.55 2016.1,579.65 2016.8,578.88 2017.6,578.23 2018.3,577.15 2019.1,576.13 2019.8,574.96 2020.6,573.54 2021.3,572.36 2022.1,571.00 2022.8,569.61 2023.6,569.13 2024.3,567.14 2025.1,566.55 2025.8,565.52 2026.6,564.29 2027.3,563.51 2028.1,563.07 2028.8,562.74 2029.6,562.84 2030.3,563.14 2031.1,563.68 2031.8,564.56 2032.6,565.49 2033.3,566.53 2034.1,567.94 2034.8,569.15 2035.6,570.90 2036.3,572.16 2037.1,573.40 2037.8,574.62 2038.6,575.53 2039.3,576.52 2040.1,577.61 2040.8,578.48 2041.6,579.40 2042.3,580.21 2043.1,580.89 2043.8,581.47 2044.6,582.34 2045.3,582.89 2046.1,583.39 2046.8,583.75 2047.6,583.52 2048.3,583.99 2049.1,584.14 2049.8,584.37 2050.6,584.88 2051.3,585.03 2052.1,585.17 2052.8,585.42 2053.6,585.15 2054.3,585.12 2055.1,585.12 2055.8,585.26 2056.6,585.42 2057.3,585.27 2058.1,585.44 2058.8,585.40 2059.6,585.38 2060.3,585.44 2061.1,585.49 2061.8,585.63 2062.6,585.93 2063.3,585.85 2064.1,586.02 2064.8,586.11 2065.6,585.25 2066.3,585.13 2067.1,585.22 2067.8,585.20 2068.6,585.90 2069.3,585.89 2070.1,585.83 2070.8,585.80 2071.6,585.31 2072.3,585.16 2073.1,585.16 2073.8,584.92 2074.6,584.92 2075.3,584.74 2076.1,584.38 2076.8,584.24 2077.6,583.69 2078.3,583.49 2079.1,583.24 2079.8,582.72 2080.6,582.96 2081.3,582.67 2082.1,582.22 2082.8,582.00 2083.6,581.79 2084.3,581.69 2085.1,581.41 2085.8,581.41 2086.6,580.71 2087.3,580.76 2088.1,580.90 2088.8,581.04 2089.6,582.12 2090.3,582.45 2091.1,583.21 2091.8,583.03 2092.6,583.39 2093.3,583.68 2094.1,583.99 2094.8,584.18 2095.6,584.20 2096.3,584.25 2097.1,584.53 2097.8,584.64 2098.6,585.31 2099.3,585.34 2100.1,585.48 2100.8,585.72 2101.6,585.68 2102.3,585.82 2103.1,585.95 2103.8,586.07 2104.6,586.34 2105.3,586.46 2106.1,586.49 2106.8,586.41 2107.6,586.21 2108.3,586.25 2109.1,586.27 2109.8,586.21 2110.6,586.28 2111.3,586.34 2112.1,586.24 2112.8,586.26 2113.6,586.00 2114.3,585.81 2115.1,585.93 2115.8,585.98 2116.6,586.52 2117.3,586.40 2118.1,586.36 2118.8,586.35 2119.6,586.40 2120.3,586.43 2121.1,586.35 2121.8,586.47 2122.6,586.78 2123.3,586.86 2124.1,586.82 2124.8,586.88 2125.6,586.47 2126.3,586.47 2127.1,586.59 2127.8,586.38 2128.6,586.42 2129.3,586.54 2130.1,586.59 2130.8,586.53 2131.6,586.52 2132.3,586.62 2133.1,586.59 2133.8,586.52 2134.6,586.92 2135.3,586.95 2136.1,586.91 2136.8,587.03 2137.6,586.67 2138.3,586.64 2139.1,586.58 2139.8,586.68 2140.6,587.24 2141.3,586.54 2142.1,586.66 2142.8,586.62 2143.6,586.16 2144.3,586.27 2145.1,586.02 2145.8,586.25 2146.6,587.06 2147.3,586.99 2148.1,587.03 2148.8,587.00 2149.6,586.57 2150.3,586.67 2151.1,586.60 2151.8,586.51 2152.6,586.96 2153.3,587.06 2154.1,586.40 2154.8,586.30 2155.6,586.54 2156.3,586.59 2157.1,586.54 2157.8,586.66 2158.6,587.36 2159.3,587.32 2160.1,587.32 2160.8,587.38 2161.6,586.64 2162.3,586.57 2163.1,586.58 2163.8,586.54 2164.6,586.60 2165.3,586.55 2166.1,586.47 2166.8,586.51 2167.6,586.16 2168.3,586.05 2169.1,586.18 2169.8,586.26 2170.6,586.43 2171.3,586.55 2172.1,586.50 2172.8,586.42 2173.6,586.41 2174.3,586.41 2175.1,586.25 2175.8,586.38 2176.6,586.88 2177.3,586.75 2178.1,586.69 2178.8,586.75 2179.6,586.67 2180.3,586.46 2181.1,586.59 2181.8,586.46 2182.6,586.36 2183.3,586.32 2184.1,586.12 2184.8,586.00 2185.6,585.17 2186.3,585.01 2187.1,584.54 2187.8,584.36 2188.6,584.30 2189.3,583.90 2190.1,583.40 2190.8,582.88 2191.6,582.22 2192.3,581.79 2193.1,581.23 2193.8,580.68 2194.6,580.77 2195.3,580.66 2196.1,580.77 2196.8,580.86 2197.6,581.06 2198.3,581.58 2199.1,582.04 2199.8,582.72 2200.6,582.84 2201.3,583.41 2202.1,583.74 2202.8,584.22 2203.6,584.98 2204.3,585.20 2205.1,585.43 2205.8,585.76 2206.6,586.18 2207.3,586.28 2208.1,586.42 2208.8,586.38 2209.6,586.06 2210.3,585.62 2211.1,586.33 2211.8,586.31 2212.6,586.66 2213.3,586.80 2214.1,586.76 2214.8,586.79 2215.6,586.08 2216.3,586.05 2217.1,586.03 2217.8,586.13 2218.6,586.71 2219.3,586.51 2220.1,586.47 2220.8,586.51 2221.6,586.59 2222.3,586.64 2223.1,586.57 2223.8,586.54 2224.6,586.91 2225.3,587.14 2226.1,586.95 2226.8,586.88 2227.6,586.56 2228.3,586.53 2229.1,586.74 2229.8,586.60 2230.6,586.68 2231.3,586.68 2232.1,586.68 2232.8,586.71 2233.6,586.23 2234.3,586.27 2235.1,586.24 2235.8,586.41 2236.6,586.70 2237.3,586.60 2238.1,586.74 2238.8,586.70 2239.6,587.14 2240.3,587.05 2241.1,587.02 2241.8,587.09 2242.6,587.01 2243.3,587.07 2244.1,587.08 2244.8,587.11 2245.6,586.73 2246.3,586.79 2247.1,586.71 2247.8,586.66 2248.6,587.15 2249.3,587.20 2250.1,586.97 2250.8,587.12 2251.6,586.78 2252.3,586.69 2253.1,586.67 2253.8,586.69 2254.6,586.61 2255.3,586.69 2256.1,586.65 2256.8,586.59 2257.6,586.21 2258.3,586.39 2259.1,586.40 2259.8,586.38 2260.6,586.68 2261.3,586.72 2262.1,586.78 2262.8,586.82 2263.6,586.29 2264.3,586.29 2265.1,586.26 2265.8,586.46 2266.6,586.74 2267.3,586.70 2268.1,586.64 2268.8,586.79 2269.6,586.72 2270.3,586.79 2271.1,586.67 2271.8,586.68 2272.6,586.60 2273.3,586.68 2274.1,586.72 2274.8,586.71 2275.6,586.63 2276.3,586.69 2277.1,586.79 2277.8,586.68 2278.6,586.37 2279.3,586.38 2280.1,586.46 2280.8,586.36 2281.6,586.71 2282.3,586.82 2283.1,586.80 2283.8,586.74 2284.6,586.70 2285.3,586.74 2286.1,586.73 2286.8,586.77 2287.6,586.74 2288.3,586.65 2289.1,586.76 2289.8,586.80 2290.6,586.34 2291.3,586.37 2292.1,586.95 2292.8,586.41 2293.6,587.24 2294.3,587.16 2295.1,587.13 2295.8,587.03 2296.6,586.64 2297.3,586.65 2298.1,586.86 2298.8,586.74 2299.6,586.68 2300.3,586.73 2301.1,586.70 2301.8,586.70 2302.6,586.78 2303.3,586.72 2304.1,586.82" fill="none" stroke="#00b13b" stroke-width="3.4" stroke-linejoin="round"/>
<path d="M295.6,870.73 296.4,870.99 297.1,870.81 297.9,870.82 298.6,871.64 299.4,871.35 300.1,871.45 300.9,871.61 301.6,872.32 302.4,872.20 303.1,872.27 303.9,872.38 304.6,871.76 305.4,871.49 306.1,871.63 306.9,871.65 307.6,871.13 308.4,871.03 309.1,870.85 309.9,870.76 310.6,872.12 311.4,872.27 312.1,872.40 312.9,872.27 313.6,869.85 314.4,871.00 315.1,871.14 315.9,870.95 316.6,872.32 317.4,871.94 318.1,872.11 318.9,872.14 319.6,872.13 320.4,872.11 321.1,872.00 321.9,872.48 322.6,871.62 323.4,871.67 324.1,871.56 324.9,871.54 325.6,870.86 326.4,870.81 327.1,870.91 327.9,871.18 328.6,871.56 329.4,871.22 330.1,871.56 330.9,871.53 331.6,872.29 332.4,872.22 333.1,872.23 333.9,872.26 334.6,871.92 335.4,870.88 336.1,870.90 336.9,870.87 337.6,871.56 338.4,870.58 339.1,871.63 339.9,871.65 340.6,871.52 341.4,871.32 342.1,871.45 342.9,871.34 343.6,871.28 344.4,871.40 345.1,871.53 345.9,871.82 346.6,871.45 347.4,871.84 348.1,871.74 348.9,871.73 349.6,872.24 350.4,872.30 351.1,872.37 351.9,871.99 352.6,871.70 353.4,871.55 354.1,871.59 354.9,871.66 355.6,871.66 356.4,871.43 357.1,871.50 357.9,871.45 358.6,871.67 359.4,871.53 360.1,871.55 360.9,871.68 361.6,872.57 362.4,872.80 363.1,872.78 363.9,872.74 364.6,871.40 365.4,871.53 366.1,871.44 366.9,871.72 367.6,872.00 368.4,872.37 369.1,872.14 369.9,872.31 370.6,872.28 371.4,872.17 372.1,872.08 372.9,872.03 373.6,871.58 374.4,871.74 375.1,871.83 375.9,871.59 376.6,871.55 377.4,871.67 378.1,871.59 378.9,871.53 379.6,871.48 380.4,871.55 381.1,871.50 381.9,871.46 382.6,871.49 383.4,871.43 384.1,871.66 384.9,871.42 385.6,871.46 386.4,871.60 387.1,871.40 387.9,871.52 388.6,871.55 389.4,871.44 390.1,871.59 390.9,871.70 391.6,871.37 392.4,871.58 393.1,871.56 393.9,871.45 394.6,871.54 395.4,871.72 396.1,871.61 396.9,871.53 397.6,871.00 398.4,872.05 399.1,871.02 399.9,871.04 400.6,871.39 401.4,871.64 402.1,871.65 402.9,871.40 403.6,871.44 404.4,871.45 405.1,871.68 405.9,871.36 406.6,871.46 407.4,871.57 408.1,871.41 408.9,871.65 409.6,871.58 410.4,871.66 411.1,871.54 411.9,871.61 412.6,871.00 413.4,871.02 414.1,870.97 414.9,870.84 415.6,871.46 416.4,871.63 417.1,871.84 417.9,871.64 418.6,870.96 419.4,870.77 420.1,871.02 420.9,871.01 421.6,871.25 422.4,871.64 423.1,871.46 423.9,871.50 424.6,871.55 425.4,871.48 426.1,871.73 426.9,871.55 427.6,871.47 428.4,871.65 429.1,871.64 429.9,871.68 430.6,871.05 431.4,870.94 432.1,870.15 432.9,870.93 433.6,871.15 434.4,871.07 435.1,870.86 435.9,871.12 436.6,871.54 437.4,871.58 438.1,871.62 438.9,871.45 439.6,871.72 440.4,871.58 441.1,871.60 441.9,871.41 442.6,871.17 443.4,870.68 444.1,871.02 444.9,871.06 445.6,870.82 446.4,870.78 447.1,870.74 447.9,870.99 448.6,871.63 449.4,871.39 450.1,871.62 450.9,871.59 451.6,871.40 452.4,871.70 453.1,871.43 453.9,871.50 454.6,871.44 455.4,871.29 456.1,871.58 456.9,871.62 457.6,871.60 458.4,871.28 459.1,871.35 459.9,871.55 460.6,871.45 461.4,871.55 462.1,871.60 462.9,871.59 463.6,871.79 464.4,871.59 465.1,871.53 465.9,871.39 466.6,872.00 467.4,872.18 468.1,871.93 468.9,872.10 469.6,871.50 470.4,871.55 471.1,871.35 471.9,871.45 472.6,871.60 473.4,871.43 474.1,871.47 474.9,871.59 475.6,872.06 476.4,872.18 477.1,872.04 477.9,872.01 478.6,871.54 479.4,871.54 480.1,871.43 480.9,871.53 481.6,871.58 482.4,871.35 483.1,871.61 483.9,871.33 484.6,871.27 485.4,871.46 486.1,871.42 486.9,871.31 487.6,871.38 488.4,871.40 489.1,871.52 489.9,871.44 490.6,871.36 491.4,871.48 492.1,871.60 492.9,871.66 493.6,870.70 494.4,870.91 495.1,870.92 495.9,870.68 496.6,871.93 497.4,871.80 498.1,871.83 498.9,872.01 499.6,871.76 500.4,871.87 501.1,871.85 501.9,871.97 502.6,871.88 503.4,871.65 504.1,871.75 504.9,871.66 505.6,871.19 506.4,871.26 507.1,871.30 507.9,871.33 508.6,871.56 509.4,871.53 510.1,871.44 510.9,871.28 511.6,870.99 512.4,870.73 513.1,870.46 513.9,869.84 514.6,869.03 515.4,868.50 516.1,867.80 516.9,867.24 517.6,866.71 518.4,866.51 519.1,866.35 519.9,866.32 520.6,866.82 521.4,866.81 522.1,867.73 522.9,868.29 523.6,868.68 524.4,869.19 525.1,869.43 525.9,869.82 526.6,870.05 527.4,870.35 528.1,870.28 528.9,870.41 529.6,870.38 530.4,870.33 531.1,870.53 531.9,870.34 532.6,870.72 533.4,870.50 534.1,870.42 534.9,870.12 535.6,869.51 536.4,869.14 537.1,869.34 537.9,868.79 538.6,869.52 539.4,868.87 540.1,867.98 540.9,866.97 541.6,864.19 542.4,861.50 543.1,857.98 543.9,853.58 544.6,848.35 545.4,842.74 546.1,837.66 546.9,833.89 547.6,832.27 548.4,833.87 549.1,837.76 549.9,842.67 550.6,848.43 551.4,853.56 552.1,858.05 552.9,861.56 553.6,864.21 554.4,866.20 555.1,867.36 555.9,868.56 556.6,869.48 557.4,870.09 558.1,870.29 558.9,870.50 559.6,870.28 560.4,870.45 561.1,870.41 561.9,870.48 562.6,870.75 563.4,870.57 564.1,870.77 564.9,870.83 565.6,870.31 566.4,870.37 567.1,870.40 567.9,870.40 568.6,871.58 569.4,871.75 570.1,871.66 570.9,871.55 571.6,870.02 572.4,869.90 573.1,870.05 573.9,870.04 574.6,871.18 575.4,871.25 576.1,871.11 576.9,870.92 577.6,870.80 578.4,870.81 579.1,870.55 579.9,870.30 580.6,870.63 581.4,869.89 582.1,869.08 582.9,868.64 583.6,868.39 584.4,868.30 585.1,868.56 585.9,869.08 586.6,869.18 587.4,868.53 588.1,870.24 588.9,870.46 589.6,871.41 590.4,871.50 591.1,871.46 591.9,871.71 592.6,870.92 593.4,871.15 594.1,871.11 594.9,871.33 595.6,871.45 596.4,870.96 597.1,871.08 597.9,871.08 598.6,871.15 599.4,871.18 600.1,871.23 600.9,871.14 601.6,870.98 602.4,871.07 603.1,871.25 603.9,871.15 604.6,871.00 605.4,871.06 606.1,870.97 606.9,871.04 607.6,870.40 608.4,870.42 609.1,870.15 609.9,869.84 610.6,870.14 611.4,869.98 612.1,869.81 612.9,869.22 613.6,868.92 614.4,868.39 615.1,868.05 615.9,867.32 616.6,867.64 617.4,866.72 618.1,866.52 618.9,866.33 619.6,865.73 620.4,865.76 621.1,865.96 621.9,866.53 622.6,866.38 623.4,866.47 624.1,866.99 624.9,867.09 625.6,868.29 626.4,868.42 627.1,868.11 627.9,867.67 628.6,866.60 629.4,865.69 630.1,864.78 630.9,862.81 631.6,860.88 632.4,858.54 633.1,855.82 633.9,852.98 634.6,849.77 635.4,846.70 636.1,844.06 636.9,842.26 637.6,840.99 638.4,841.51 639.1,842.95 639.9,845.52 640.6,849.46 641.4,852.35 642.1,855.72 642.9,858.49 643.6,860.64 644.4,862.82 645.1,864.53 645.9,865.79 646.6,867.49 647.4,868.45 648.1,869.24 648.9,869.52 649.6,869.85 650.4,870.21 651.1,870.22 651.9,870.49 652.6,870.20 653.4,869.98 654.1,870.35 654.9,870.43 655.6,870.64 656.4,870.51 657.1,870.55 657.9,870.56 658.6,870.58 659.4,870.68 660.1,870.71 660.9,870.98 661.6,871.15 662.4,871.05 663.1,871.18 663.9,871.12 664.6,870.72 665.4,870.77 666.1,870.68 666.9,870.71 667.6,870.81 668.4,870.59 669.1,870.71 669.9,870.58 670.6,870.08 671.4,870.20 672.1,870.02 672.9,869.82 673.6,870.95 674.4,870.81 675.1,870.89 675.9,870.92 676.6,870.93 677.4,870.68 678.1,870.75 678.9,870.71 679.6,870.59 680.4,870.36 681.1,870.05 681.9,869.64 682.6,869.19 683.4,868.62 684.1,868.25 684.9,867.97 685.6,867.35 686.4,867.01 687.1,867.05 687.9,866.90 688.6,866.89 689.4,867.19 690.1,867.50 690.9,867.91 691.6,868.09 692.4,868.04 693.1,868.25 693.9,868.52 694.6,868.32 695.4,868.27 696.1,868.37 696.9,868.13 697.6,867.90 698.4,867.67 699.1,867.58 699.9,867.32 700.6,867.51 701.4,867.28 702.1,866.97 702.9,866.63 703.6,865.21 704.4,864.69 705.1,864.33 705.9,863.68 706.6,863.60 707.4,863.13 708.1,862.62 708.9,861.66 709.6,861.03 710.4,859.99 711.1,858.63 711.9,857.17 712.6,854.81 713.4,852.24 714.1,849.02 714.9,845.19 715.6,839.84 716.4,833.11 717.1,824.17 717.9,812.82 718.6,798.87 719.4,781.66 720.1,761.40 720.9,738.40 721.6,713.42 722.4,687.31 723.1,662.06 723.9,640.51 724.6,624.95 725.4,620.34 726.1,626.32 726.9,642.13 727.6,664.23 728.4,689.89 729.1,716.31 729.9,741.18 730.6,764.29 731.4,784.31 732.1,800.94 732.9,814.58 733.6,825.53 734.4,834.07 735.1,840.80 735.9,845.93 736.6,850.21 737.4,853.10 738.1,855.61 738.9,857.44 739.6,858.27 740.4,859.66 741.1,860.92 741.9,861.90 742.6,862.71 743.4,863.51 744.1,864.06 744.9,864.46 745.6,864.56 746.4,865.33 747.1,865.55 747.9,865.91 748.6,866.80 749.4,867.25 750.1,867.50 750.9,867.62 751.6,867.46 752.4,867.64 753.1,868.13 753.9,867.97 754.6,868.80 755.4,868.81 756.1,869.03 756.9,869.17 757.6,869.48 758.4,869.51 759.1,869.58 759.9,869.63 760.6,869.98 761.4,869.98 762.1,869.90 762.9,870.13 763.6,870.17 764.4,870.23 765.1,870.32 765.9,870.33 766.6,870.89 767.4,870.89 768.1,871.17 768.9,871.00 769.6,870.77 770.4,870.77 771.1,870.71 771.9,871.04 772.6,871.00 773.4,870.96 774.1,871.13 774.9,871.15 775.6,870.51 776.4,870.64 777.1,870.68 777.9,870.65 778.6,871.27 779.4,871.30 780.1,871.24 780.9,871.38 781.6,871.50 782.4,871.35 783.1,871.62 783.9,871.35 784.6,871.55 785.4,871.40 786.1,871.54 786.9,871.60 787.6,871.02 788.4,871.03 789.1,870.97 789.9,871.04 790.6,871.58 791.4,871.73 792.1,871.76 792.9,871.72 793.6,872.23 794.4,872.25 795.1,872.33 795.9,872.35 796.6,871.69 797.4,871.79 798.1,871.87 798.9,871.62 799.6,871.81 800.4,871.72 801.1,871.75 801.9,871.98 802.6,871.95 803.4,871.99 804.1,872.01 804.9,871.95 805.6,872.02 806.4,872.06 807.1,871.91 807.9,872.04 808.6,872.07 809.4,872.17 810.1,872.02 810.9,872.11 811.6,871.73 812.4,871.50 813.1,871.64 813.9,871.52 814.6,871.59 815.4,871.53 816.1,871.77 816.9,871.72 817.6,871.70 818.4,871.55 819.1,871.63 819.9,871.75 820.6,872.09 821.4,872.46 822.1,872.39 822.9,872.09 823.6,872.16 824.4,872.33 825.1,872.43 825.9,872.22 826.6,872.39 827.4,872.33 828.1,872.22 828.9,872.33 829.6,872.28 830.4,872.51 831.1,872.26 831.9,872.45 832.6,872.54 833.4,872.47 834.1,872.45 834.9,872.45 835.6,871.82 836.4,871.71 837.1,871.88 837.9,872.10 838.6,872.88 839.4,872.83 840.1,872.96 840.9,872.94 841.6,872.54 842.4,872.41 843.1,872.55 843.9,872.45 844.6,871.92 845.4,872.08 846.1,872.08 846.9,872.04 847.6,872.99 848.4,873.07 849.1,873.00 849.9,873.07 850.6,872.62 851.4,872.61 852.1,872.83 852.9,872.70 853.6,872.47 854.4,872.72 855.1,872.62 855.9,872.72 856.6,872.90 857.4,872.59 858.1,872.79 858.9,872.64 859.6,872.22 860.4,872.15 861.1,872.27 861.9,872.29 862.6,872.29 863.4,872.36 864.1,872.45 864.9,872.21 865.6,872.85 866.4,873.54 867.1,872.94 867.9,872.78 868.6,872.80 869.4,872.68 870.1,872.92 870.9,872.63 871.6,871.66 872.4,871.89 873.1,871.93 873.9,872.13 874.6,873.00 875.4,872.79 876.1,872.87 876.9,873.09 877.6,872.94 878.4,872.81 879.1,872.85 879.9,872.95 880.6,873.01 881.4,873.08 882.1,873.07 882.9,873.08 883.6,873.08 884.4,873.03 885.1,872.93 885.9,872.99 886.6,872.93 887.4,872.86 888.1,872.87 888.9,872.86 889.6,872.96 890.4,873.18 891.1,873.01 891.9,873.07 892.6,873.11 893.4,872.93 894.1,873.08 894.9,873.13 895.6,871.74 896.4,872.73 897.1,872.64 897.9,872.46 898.6,872.69 899.4,872.53 900.1,872.60 900.9,872.86 901.6,873.58 902.4,873.59 903.1,873.33 903.9,873.60 904.6,873.59 905.4,873.68 906.1,873.52 906.9,873.57 907.6,872.96 908.4,873.17 909.1,873.25 909.9,873.14 910.6,873.18 911.4,873.11 912.1,873.28 912.9,873.10 913.6,873.04 914.4,873.19 915.1,873.29 915.9,873.13 916.6,872.75 917.4,872.70 918.1,872.78 918.9,872.70 919.6,873.14 920.4,873.08 921.1,873.25 921.9,873.22 922.6,873.21 923.4,873.23 924.1,873.19 924.9,873.13 925.6,873.14 926.4,873.19 927.1,873.21 927.9,873.07 928.6,873.19 929.4,873.22 930.1,873.19 930.9,873.27 931.6,872.69 932.4,872.66 933.1,872.94 933.9,872.72 934.6,872.67 935.4,872.75 936.1,872.75 936.9,872.76 937.6,873.73 938.4,873.58 939.1,873.76 939.9,873.80 940.6,873.27 941.4,873.34 942.1,873.47 942.9,873.22 943.6,873.73 944.4,873.80 945.1,873.58 945.9,873.73 946.6,872.99 947.4,872.72 948.1,872.86 948.9,873.73 949.6,873.69 950.4,872.91 951.1,873.79 951.9,873.70 952.6,873.50 953.4,873.31 954.1,873.33 954.9,873.35 955.6,872.85 956.4,873.08 957.1,872.87 957.9,872.98 958.6,873.46 959.4,873.35 960.1,873.17 960.9,873.41 961.6,872.54 962.4,872.59 963.1,872.47 963.9,872.40 964.6,872.94 965.4,872.97 966.1,872.89 966.9,873.02 967.6,873.36 968.4,873.30 969.1,873.49 969.9,873.38 970.6,873.70 971.4,873.72 972.1,873.96 972.9,873.92 973.6,873.01 974.4,872.92 975.1,872.95 975.9,872.99 976.6,873.82 977.4,873.94 978.1,873.93 978.9,873.90 979.6,873.55 980.4,873.49 981.1,873.50 981.9,873.39 982.6,873.43 983.4,873.42 984.1,873.40 984.9,873.45 985.6,873.04 986.4,872.99 987.1,873.16 987.9,872.99 988.6,874.46 989.4,873.40 990.1,873.53 990.9,873.49 991.6,873.47 992.4,873.29 993.1,873.57 993.9,873.55 994.6,873.02 995.4,873.16 996.1,873.11 996.9,873.07 997.6,873.46 998.4,873.56 999.1,873.49 999.9,873.67 1000.6,873.07 1001.4,873.28 1002.1,873.17 1002.9,873.20 1003.6,873.70 1004.4,873.58 1005.1,873.59 1005.9,873.55 1006.6,873.54 1007.4,873.50 1008.1,873.57 1008.9,873.61 1009.6,873.57 1010.4,873.55 1011.1,873.65 1011.9,873.57 1012.6,873.52 1013.4,873.62 1014.1,873.44 1014.9,873.74 1015.6,873.45 1016.4,873.73 1017.1,873.51 1017.9,873.71 1018.6,874.09 1019.4,874.12 1020.1,874.12 1020.9,873.96 1021.6,873.73 1022.4,873.63 1023.1,873.62 1023.9,873.59 1024.6,873.72 1025.3,873.68 1026.1,873.55 1026.8,873.70 1027.6,873.57 1028.3,873.65 1029.1,873.53 1029.8,873.53 1030.6,874.14 1031.3,874.01 1032.1,874.01 1032.8,874.25 1033.6,873.27 1034.3,873.24 1035.1,873.29 1035.8,874.03 1036.6,873.86 1037.3,873.75 1038.1,872.98 1038.8,873.71 1039.6,874.23 1040.3,874.10 1041.1,874.14 1041.8,874.08 1042.6,874.02 1043.3,874.14 1044.1,874.12 1044.8,874.37 1045.6,873.83 1046.3,873.69 1047.1,873.85 1047.8,873.74 1048.6,873.85 1049.3,873.87 1050.1,873.80 1050.8,873.78 1051.6,873.80 1052.3,873.90 1053.1,873.74 1053.8,873.79 1054.6,873.85 1055.3,873.85 1056.1,873.62 1056.8,873.63 1057.6,874.22 1058.3,874.36 1059.1,874.10 1059.8,874.15 1060.6,873.77 1061.3,873.76 1062.1,873.82 1062.8,873.72 1063.6,873.80 1064.3,873.92 1065.1,873.85 1065.8,873.74 1066.6,873.93 1067.3,873.86 1068.1,873.80 1068.8,873.82 1069.6,873.78 1070.3,873.71 1071.1,873.86 1071.8,873.74 1072.6,873.51 1073.3,873.37 1074.1,873.40 1074.8,873.50 1075.6,873.88 1076.3,873.96 1077.1,873.98 1077.8,873.78 1078.6,873.97 1079.3,873.82 1080.1,873.79 1080.8,873.96 1081.6,873.89 1082.3,873.80 1083.1,873.87 1083.8,873.70 1084.6,873.80 1085.3,873.82 1086.1,873.89 1086.8,873.83 1087.6,873.95 1088.3,873.81 1089.1,873.70 1089.8,873.91 1090.6,873.91 1091.3,873.86 1092.1,873.81 1092.8,874.05 1093.6,874.26 1094.3,874.19 1095.1,874.20 1095.8,874.31 1096.6,874.30 1097.3,874.19 1098.1,874.39 1098.8,874.36 1099.6,873.97 1100.3,873.81 1101.1,873.83 1101.8,873.82 1102.6,873.89 1103.3,873.88 1104.1,873.94 1104.8,873.91 1105.6,873.53 1106.3,873.31 1107.1,873.51 1107.8,873.47 1108.6,873.79 1109.3,873.93 1110.1,873.86 1110.8,873.89 1111.6,873.42 1112.3,873.46 1113.1,873.59 1113.8,873.48 1114.6,874.08 1115.3,873.96 1116.1,874.02 1116.8,874.05 1117.6,874.00 1118.3,873.88 1119.1,873.84 1119.8,873.86 1120.6,873.36 1121.3,873.46 1122.1,873.63 1122.8,873.49 1123.6,874.07 1124.3,873.99 1125.1,873.95 1125.8,873.88 1126.6,873.89 1127.3,873.81 1128.1,873.84 1128.8,873.92 1129.6,873.80 1130.3,873.91 1131.1,873.91 1131.8,873.96 1132.6,873.87 1133.3,874.01 1134.1,873.93 1134.8,873.76 1135.6,874.04 1136.3,873.85 1137.1,873.77 1137.8,873.89 1138.6,873.80 1139.3,873.94 1140.1,873.92 1140.8,873.95 1141.6,874.29 1142.3,874.20 1143.1,874.20 1143.8,874.23 1144.6,873.83 1145.3,873.73 1146.1,873.80 1146.8,873.87 1147.6,873.84 1148.3,873.63 1149.1,873.80 1149.8,873.62 1150.6,873.69 1151.3,873.79 1152.1,873.65 1152.8,873.75 1153.6,873.62 1154.3,873.51 1155.1,873.57 1155.8,873.48 1156.6,873.09 1157.3,872.94 1158.1,873.01 1158.8,873.01 1159.6,873.60 1160.3,873.57 1161.1,873.45 1161.8,873.17 1162.6,872.61 1163.3,872.39 1164.1,871.97 1164.8,871.67 1165.6,870.89 1166.3,870.25 1167.1,869.39 1167.8,868.16 1168.6,866.54 1169.3,865.21 1170.1,863.63 1170.8,862.12 1171.6,861.07 1172.3,859.96 1173.1,859.45 1173.8,859.82 1174.6,860.80 1175.3,862.06 1176.1,863.69 1176.8,865.25 1177.6,867.12 1178.3,868.37 1179.1,869.61 1179.8,870.48 1180.6,870.89 1181.3,871.48 1182.1,872.14 1182.8,872.32 1183.6,873.10 1184.3,873.35 1185.1,873.51 1185.8,873.52 1186.6,872.86 1187.3,872.86 1188.1,873.07 1188.8,873.07 1189.6,873.19 1190.3,873.08 1191.1,873.39 1191.8,873.30 1192.6,873.64 1193.3,873.72 1194.1,873.76 1194.8,873.91 1195.6,874.26 1196.3,874.20 1197.1,874.32 1197.8,874.09 1198.6,874.37 1199.3,874.42 1200.1,874.38 1200.8,874.34 1201.6,873.98 1202.3,874.03 1203.1,873.98 1203.8,873.94 1204.6,873.59 1205.3,873.61 1206.1,873.79 1206.8,873.68 1207.6,874.61 1208.3,874.44 1209.1,874.45 1209.8,874.45 1210.6,873.62 1211.3,873.78 1212.1,873.54 1212.8,873.81 1213.6,874.10 1214.3,874.18 1215.1,874.25 1215.8,874.01 1216.6,874.22 1217.3,874.83 1218.1,874.16 1218.8,874.11 1219.6,873.69 1220.3,873.89 1221.1,873.77 1221.8,873.86 1222.6,874.08 1223.3,874.22 1224.1,874.28 1224.8,874.18 1225.6,873.52 1226.3,872.56 1227.1,873.52 1227.8,873.36 1228.6,874.71 1229.3,874.76 1230.1,874.73 1230.8,874.69 1231.6,873.87 1232.3,873.82 1233.1,873.88 1233.8,873.91 1234.6,873.96 1235.3,873.94 1236.1,873.85 1236.8,873.78 1237.6,874.37 1238.3,874.31 1239.1,874.42 1239.8,874.35 1240.6,874.28 1241.3,874.31 1242.1,874.21 1242.8,874.45 1243.6,873.91 1244.3,873.97 1245.1,873.87 1245.8,873.93 1246.6,874.26 1247.3,874.25 1248.1,873.72 1248.8,875.05 1249.6,874.41 1250.3,874.35 1251.1,874.16 1251.8,874.24 1252.6,874.38 1253.3,874.27 1254.1,874.39 1254.8,874.37 1255.6,874.81 1256.3,874.72 1257.1,874.62 1257.8,874.78 1258.6,874.48 1259.3,874.41 1260.1,874.35 1260.8,874.33 1261.6,874.26 1262.3,874.41 1263.1,874.37 1263.8,874.44 1264.6,874.34 1265.3,874.33 1266.1,874.27 1266.8,874.39 1267.6,874.75 1268.3,874.76 1269.1,874.72 1269.8,873.85 1270.6,874.04 1271.3,873.94 1272.1,873.86 1272.8,874.13 1273.6,874.39 1274.3,874.47 1275.1,874.45 1275.8,874.38 1276.6,873.67 1277.3,874.32 1278.1,874.30 1278.8,874.48 1279.6,874.00 1280.3,873.91 1281.1,874.12 1281.8,874.17 1282.6,874.47 1283.3,874.27 1284.1,874.60 1284.8,874.42 1285.6,874.46 1286.3,874.37 1287.1,874.40 1287.8,874.45 1288.6,875.57 1289.3,874.85 1290.1,874.83 1290.8,874.89 1291.6,874.32 1292.3,874.34 1293.1,874.50 1293.8,874.45 1294.6,874.34 1295.3,874.31 1296.1,874.46 1296.8,874.58 1297.6,874.46 1298.3,874.52 1299.1,874.47 1299.8,874.50 1300.6,874.45 1301.3,874.48 1302.1,874.47 1302.8,874.49 1303.6,874.28 1304.3,874.49 1305.1,874.51 1305.8,874.47 1306.6,874.96 1307.3,874.86 1308.1,874.78 1308.8,874.97 1309.6,874.39 1310.3,874.56 1311.1,874.56 1311.8,874.33 1312.6,874.57 1313.3,874.66 1314.1,874.52 1314.8,874.38 1315.6,874.88 1316.3,874.94 1317.1,874.83 1317.8,875.02 1318.6,874.45 1319.3,874.54 1320.1,874.35 1320.8,874.55 1321.6,874.44 1322.3,874.51 1323.1,874.51 1323.8,874.58 1324.6,874.59 1325.3,874.47 1326.1,874.61 1326.8,874.49 1327.6,874.53 1328.3,874.66 1329.1,874.59 1329.8,874.39 1330.6,874.57 1331.3,874.46 1332.1,874.34 1332.8,874.75 1333.6,874.81 1334.3,874.90 1335.1,874.87 1335.8,874.90 1336.6,875.18 1337.3,875.40 1338.1,875.17 1338.8,875.45 1339.6,874.92 1340.3,874.82 1341.1,874.86 1341.8,874.78 1342.6,874.40 1343.3,874.38 1344.1,874.45 1344.8,874.51 1345.6,874.50 1346.3,874.61 1347.1,874.56 1347.8,874.48 1348.6,874.47 1349.3,874.43 1350.1,874.48 1350.8,874.48 1351.6,874.42 1352.3,874.57 1353.1,874.50 1353.8,874.36 1354.6,874.54 1355.3,874.43 1356.1,874.54 1356.8,874.50 1357.6,874.60 1358.3,874.47 1359.1,874.56 1359.8,874.55 1360.6,874.91 1361.3,874.90 1362.1,874.90 1362.8,874.90 1363.6,874.57 1364.3,874.51 1365.1,874.54 1365.8,874.55 1366.6,874.59 1367.3,874.46 1368.1,874.53 1368.8,874.64 1369.6,874.78 1370.3,874.21 1371.1,874.12 1371.8,874.13 1372.6,874.63 1373.3,874.46 1374.1,874.50 1374.8,874.46 1375.6,874.49 1376.3,874.38 1377.1,874.51 1377.8,874.57 1378.6,874.16 1379.3,874.27 1380.1,874.27 1380.8,874.22 1381.6,874.93 1382.3,874.95 1383.1,875.12 1383.8,874.94 1384.6,873.77 1385.3,873.66 1386.1,873.79 1386.8,873.85 1387.6,874.91 1388.3,874.99 1389.1,874.89 1389.8,874.93 1390.6,874.93 1391.3,875.02 1392.1,874.75 1392.8,874.88 1393.6,874.54 1394.3,874.57 1395.1,874.68 1395.8,874.44 1396.6,874.65 1397.3,874.48 1398.1,874.45 1398.8,874.56 1399.6,874.93 1400.3,874.86 1401.1,874.82 1401.8,874.93 1402.6,874.56 1403.3,874.55 1404.1,874.65 1404.8,874.48 1405.6,874.55 1406.3,874.63 1407.1,874.62 1407.8,874.56 1408.6,874.18 1409.3,874.20 1410.1,874.13 1410.8,874.15 1411.6,874.46 1412.3,874.39 1413.1,874.57 1413.8,874.75 1414.6,874.45 1415.3,874.51 1416.1,874.57 1416.8,874.53 1417.6,874.24 1418.3,874.14 1419.1,874.26 1419.8,874.18 1420.6,874.55 1421.3,874.64 1422.1,874.74 1422.8,874.58 1423.6,874.50 1424.3,874.49 1425.1,874.49 1425.8,874.69 1426.6,874.97 1427.3,874.90 1428.1,875.09 1428.8,874.97 1429.6,874.67 1430.3,874.60 1431.1,874.68 1431.8,874.56 1432.6,874.64 1433.3,874.54 1434.1,874.54 1434.8,874.61 1435.6,874.74 1436.3,874.63 1437.1,874.63 1437.8,874.56 1438.6,874.54 1439.3,874.47 1440.1,874.55 1440.8,874.80 1441.6,874.19 1442.3,874.17 1443.1,874.16 1443.8,874.30 1444.6,874.59 1445.3,874.67 1446.1,874.59 1446.8,874.74 1447.6,874.99 1448.3,875.05 1449.1,875.02 1449.8,875.00 1450.6,874.64 1451.3,874.66 1452.1,874.61 1452.8,874.55 1453.6,874.19 1454.3,874.39 1455.1,874.38 1455.8,874.28 1456.6,874.99 1457.3,874.93 1458.1,874.95 1458.8,875.13 1459.6,874.93 1460.3,874.97 1461.1,874.87 1461.8,874.91 1462.6,874.64 1463.3,874.51 1464.1,874.66 1464.8,874.52 1465.6,874.15 1466.3,874.15 1467.1,874.38 1467.8,874.20 1468.6,874.19 1469.3,874.05 1470.1,874.27 1470.8,874.35 1471.6,874.47 1472.3,874.54 1473.1,874.70 1473.8,874.67 1474.6,874.67 1475.3,874.66 1476.1,874.76 1476.8,874.70 1477.6,874.12 1478.3,874.19 1479.1,874.36 1479.8,874.28 1480.6,874.89 1481.3,874.40 1482.1,874.19 1482.8,874.20 1483.6,874.60 1484.3,874.63 1485.1,874.63 1485.8,874.65 1486.6,874.23 1487.3,874.35 1488.1,874.14 1488.8,874.03 1489.6,874.66 1490.3,874.63 1491.1,874.63 1491.8,874.61 1492.6,874.56 1493.3,874.61 1494.1,874.59 1494.8,874.51 1495.6,874.59 1496.3,874.66 1497.1,874.53 1497.8,874.56 1498.6,874.31 1499.3,874.24 1500.1,874.19 1500.8,874.37 1501.6,874.12 1502.3,874.15 1503.1,874.21 1503.8,874.15 1504.6,874.52 1505.3,874.63 1506.1,874.59 1506.8,874.70 1507.6,874.10 1508.3,874.29 1509.1,874.22 1509.8,874.24 1510.6,874.04 1511.3,874.37 1512.1,874.22 1512.8,874.08 1513.6,874.23 1514.3,874.24 1515.1,874.01 1515.8,874.08 1516.6,874.48 1517.3,874.56 1518.1,874.63 1518.8,874.53 1519.6,874.52 1520.3,874.47 1521.1,874.54 1521.8,874.59 1522.6,874.91 1523.3,874.99 1524.1,874.86 1524.8,874.97 1525.6,874.42 1526.3,874.26 1527.1,874.49 1527.8,874.32 1528.6,874.13 1529.3,873.99 1530.1,874.00 1530.8,874.17 1531.6,874.21 1532.3,874.25 1533.1,874.29 1533.8,874.31 1534.6,873.99 1535.3,873.88 1536.1,873.81 1536.8,873.83 1537.6,874.26 1538.3,874.12 1539.1,874.21 1539.8,874.12 1540.6,874.03 1541.3,873.86 1542.1,873.89 1542.8,873.83 1543.6,873.75 1544.3,873.68 1545.1,873.55 1545.8,873.31 1546.6,873.21 1547.3,872.91 1548.1,872.71 1548.8,872.49 1549.6,872.03 1550.3,871.54 1551.1,871.03 1551.8,870.24 1552.6,870.14 1553.3,869.17 1554.1,868.40 1554.8,867.43 1555.6,866.07 1556.3,865.10 1557.1,864.07 1557.8,863.24 1558.6,862.68 1559.3,862.37 1560.1,862.30 1560.8,862.63 1561.6,863.27 1562.3,864.15 1563.1,865.05 1563.8,866.07 1564.6,867.43 1565.3,868.46 1566.1,869.28 1566.8,870.16 1567.6,870.42 1568.3,871.19 1569.1,871.76 1569.8,872.11 1570.6,872.13 1571.3,872.38 1572.1,872.57 1572.8,872.93 1573.6,873.56 1574.3,873.43 1575.1,873.57 1575.8,873.82 1576.6,873.49 1577.3,873.57 1578.1,873.73 1578.8,873.51 1579.6,874.17 1580.3,874.23 1581.1,874.13 1581.8,874.15 1582.6,873.88 1583.3,873.89 1584.1,873.91 1584.8,873.93 1585.6,874.06 1586.3,873.99 1587.1,874.16 1587.8,873.89 1588.6,874.49 1589.3,874.44 1590.1,874.44 1590.8,874.53 1591.6,874.09 1592.3,874.07 1593.1,874.16 1593.8,874.09 1594.6,874.56 1595.3,874.40 1596.1,874.54 1596.8,874.43 1597.6,874.55 1598.3,874.70 1599.1,874.59 1599.8,874.66 1600.6,874.35 1601.3,874.18 1602.1,874.22 1602.8,874.24 1603.6,874.62 1604.3,874.63 1605.1,874.45 1605.8,874.56 1606.6,874.65 1607.3,874.58 1608.1,874.70 1608.8,874.64 1609.6,874.69 1610.3,874.73 1611.1,874.70 1611.8,874.57 1612.6,874.72 1613.3,874.63 1614.1,874.75 1614.8,874.67 1615.6,874.64 1616.3,874.50 1617.1,874.61 1617.8,874.62 1618.6,874.75 1619.3,874.59 1620.1,874.67 1620.8,874.83 1621.6,874.68 1622.3,874.70 1623.1,874.69 1623.8,874.64 1624.6,874.76 1625.3,874.83 1626.1,874.75 1626.8,874.71 1627.6,874.74 1628.3,874.80 1629.1,874.81 1629.8,874.73 1630.6,874.71 1631.3,874.74 1632.1,874.78 1632.8,874.66 1633.6,874.44 1634.3,874.42 1635.1,874.26 1635.8,874.35 1636.6,874.81 1637.3,874.69 1638.1,874.67 1638.8,874.81 1639.6,874.70 1640.3,874.79 1641.1,874.77 1641.8,874.81 1642.6,874.78 1643.3,874.75 1644.1,874.74 1644.8,874.86 1645.6,874.41 1646.3,874.38 1647.1,874.25 1647.8,874.50 1648.6,874.74 1649.3,874.86 1650.1,874.77 1650.8,874.74 1651.6,874.81 1652.3,874.65 1653.1,874.89 1653.8,874.77 1654.6,874.73 1655.3,874.64 1656.1,874.70 1656.8,874.75 1657.6,874.72 1658.3,874.84 1659.1,874.72 1659.8,874.79 1660.6,874.34 1661.3,874.54 1662.1,874.39 1662.8,874.40 1663.6,875.31 1664.3,875.09 1665.1,875.09 1665.8,875.05 1666.6,875.13 1667.3,875.00 1668.1,875.11 1668.8,875.03 1669.6,874.71 1670.3,874.71 1671.1,874.69 1671.8,874.86 1672.6,874.82 1673.3,874.80 1674.1,874.81 1674.8,874.92 1675.6,875.16 1676.3,875.04 1677.1,875.06 1677.8,875.11 1678.6,874.75 1679.3,874.90 1680.1,874.80 1680.8,874.67 1681.6,874.76 1682.3,874.68 1683.1,874.92 1683.8,874.81 1684.6,874.03 1685.3,874.10 1686.1,874.06 1686.8,874.01 1687.6,875.26 1688.3,875.16 1689.1,875.25 1689.8,875.17 1690.6,874.72 1691.3,874.80 1692.1,874.85 1692.8,874.77 1693.6,874.91 1694.3,874.87 1695.1,874.76 1695.8,874.70 1696.6,874.78 1697.3,874.83 1698.1,874.96 1698.8,874.77 1699.6,875.29 1700.3,875.11 1701.1,875.07 1701.8,875.13 1702.6,874.88 1703.3,874.76 1704.1,874.78 1704.8,874.82 1705.6,874.78 1706.3,874.80 1707.1,874.88 1707.8,874.73 1708.6,874.71 1709.3,874.74 1710.1,874.79 1710.8,874.63 1711.6,875.18 1712.3,875.13 1713.1,875.20 1713.8,875.25 1714.6,875.16 1715.3,875.13 1716.1,875.10 1716.8,875.19 1717.6,874.69 1718.3,874.82 1719.1,874.80 1719.8,874.76 1720.6,875.14 1721.3,875.08 1722.1,875.23 1722.8,875.10 1723.6,874.69 1724.3,875.41 1725.1,874.76 1725.8,874.71 1726.6,875.19 1727.3,875.06 1728.1,875.11 1728.8,875.23 1729.6,874.86 1730.3,874.80 1731.1,874.76 1731.8,874.77 1732.6,875.16 1733.3,875.11 1734.1,875.11 1734.8,874.98 1735.6,874.65 1736.3,874.72 1737.1,874.85 1737.8,874.69 1738.6,874.60 1739.3,874.64 1740.1,874.84 1740.8,874.83 1741.6,874.85 1742.3,874.79 1743.1,874.75 1743.8,874.67 1744.6,874.61 1745.3,874.70 1746.1,874.73 1746.8,874.74 1747.6,874.97 1748.3,875.02 1749.1,875.06 1749.8,875.12 1750.6,874.77 1751.3,874.79 1752.1,874.83 1752.8,874.66 1753.6,874.80 1754.3,874.65 1755.1,874.64 1755.8,874.61 1756.6,874.71 1757.3,874.53 1758.1,874.68 1758.8,874.56 1759.6,874.71 1760.3,874.63 1761.1,874.63 1761.8,874.64 1762.6,874.53 1763.3,874.60 1764.1,874.53 1764.8,874.57 1765.6,874.21 1766.3,874.16 1767.1,874.27 1767.8,874.06 1768.6,874.32 1769.3,874.56 1770.1,874.52 1770.8,874.35 1771.6,874.82 1772.3,874.65 1773.1,874.67 1773.8,874.59 1774.6,874.21 1775.3,874.21 1776.1,874.08 1776.8,874.07 1777.6,874.07 1778.3,873.86 1779.1,874.06 1779.8,873.83 1780.6,873.78 1781.3,873.80 1782.1,873.49 1782.8,873.36 1783.6,873.57 1784.3,873.20 1785.1,873.10 1785.8,872.65 1786.6,871.50 1787.3,870.89 1788.1,870.23 1788.8,869.50 1789.6,869.29 1790.3,868.18 1791.1,866.82 1791.8,865.42 1792.6,863.65 1793.3,862.11 1794.1,860.66 1794.8,859.39 1795.6,858.44 1796.3,858.05 1797.1,858.29 1797.8,859.04 1798.6,860.13 1799.3,861.58 1800.1,862.98 1800.8,864.52 1801.6,865.64 1802.3,866.88 1803.1,868.16 1803.8,869.13 1804.6,870.36 1805.3,871.10 1806.1,871.64 1806.8,872.18 1807.6,873.12 1808.3,873.17 1809.1,873.41 1809.8,873.79 1810.6,873.38 1811.3,873.59 1812.1,873.79 1812.8,873.87 1813.6,873.84 1814.3,873.98 1815.1,874.16 1815.8,874.15 1816.6,874.31 1817.3,874.32 1818.1,874.41 1818.8,874.37 1819.6,874.30 1820.3,874.44 1821.1,874.37 1821.8,874.33 1822.6,874.43 1823.3,874.47 1824.1,874.37 1824.8,874.59 1825.6,874.50 1826.3,874.50 1827.1,874.49 1827.8,874.58 1828.6,874.31 1829.3,874.27 1830.1,874.21 1830.8,874.24 1831.6,874.32 1832.3,874.22 1833.1,874.34 1833.8,874.38 1834.6,874.99 1835.3,874.97 1836.1,875.01 1836.8,875.04 1837.6,873.98 1838.3,873.94 1839.1,874.04 1839.8,873.93 1840.6,874.62 1841.3,874.68 1842.1,874.67 1842.8,874.77 1843.6,875.12 1844.3,875.08 1845.1,875.13 1845.8,875.20 1846.6,874.75 1847.3,874.82 1848.1,874.79 1848.8,874.69 1849.6,874.67 1850.3,874.78 1851.1,874.78 1851.8,874.79 1852.6,874.79 1853.3,874.69 1854.1,874.76 1854.8,874.68 1855.6,875.05 1856.3,875.08 1857.1,875.11 1857.8,875.09 1858.6,874.34 1859.3,874.29 1860.1,874.52 1860.8,874.39 1861.6,874.83 1862.3,874.71 1863.1,874.84 1863.8,874.79 1864.6,874.74 1865.3,874.89 1866.1,874.69 1866.8,874.82 1867.6,874.79 1868.3,874.69 1869.1,874.94 1869.8,874.86 1870.6,874.79 1871.3,874.84 1872.1,874.81 1872.8,874.82 1873.6,874.42 1874.3,874.54 1875.1,874.38 1875.8,874.35 1876.6,874.84 1877.3,874.87 1878.1,874.81 1878.8,874.76 1879.6,874.38 1880.3,874.39 1881.1,874.52 1881.8,874.37 1882.6,874.86 1883.3,874.85 1884.1,874.84 1884.8,874.83 1885.6,874.80 1886.3,874.73 1887.1,874.88 1887.8,874.87 1888.6,874.70 1889.3,874.78 1890.1,874.80 1890.8,874.94 1891.6,874.75 1892.3,874.83 1893.1,874.80 1893.8,874.73 1894.6,874.85 1895.3,874.74 1896.1,874.89 1896.8,874.72 1897.6,875.12 1898.3,875.13 1899.1,875.22 1899.8,875.22 1900.6,874.60 1901.3,874.34 1902.1,874.33 1902.8,874.44 1903.6,874.96 1904.3,874.76 1905.1,874.72 1905.8,874.77 1906.6,875.09 1907.3,875.10 1908.1,875.20 1908.8,875.13 1909.6,875.16 1910.3,875.05 1911.1,875.06 1911.8,875.19 1912.6,875.08 1913.3,875.32 1914.1,875.07 1914.8,875.16 1915.6,874.79 1916.3,874.90 1917.1,874.85 1917.8,874.81 1918.6,874.85 1919.3,874.76 1920.1,874.81 1920.8,874.74 1921.6,874.50 1922.3,874.47 1923.1,874.48 1923.8,874.63 1924.6,874.93 1925.3,874.77 1926.1,874.72 1926.8,874.77 1927.6,874.81 1928.3,874.87 1929.1,874.83 1929.8,874.88 1930.6,874.38 1931.3,874.47 1932.1,874.35 1932.8,874.49 1933.6,874.77 1934.3,874.80 1935.1,874.88 1935.8,874.81 1936.6,874.81 1937.3,874.80 1938.1,874.76 1938.8,874.20 1939.6,874.78 1940.3,874.76 1941.1,874.72 1941.8,874.70 1942.6,874.72 1943.3,874.82 1944.1,874.74 1944.8,874.78 1945.6,875.10 1946.3,875.02 1947.1,875.04 1947.8,875.00 1948.6,874.62 1949.3,874.80 1950.1,874.72 1950.8,874.77 1951.6,874.36 1952.3,874.42 1953.1,874.33 1953.8,874.38 1954.6,874.77 1955.3,874.55 1956.1,874.64 1956.8,874.67 1957.6,874.60 1958.3,874.55 1959.1,874.68 1959.8,874.51 1960.6,874.15 1961.3,874.06 1962.1,874.14 1962.8,874.05 1963.6,874.26 1964.3,874.33 1965.1,874.21 1965.8,874.06 1966.6,874.06 1967.3,873.86 1968.1,873.66 1968.8,873.72 1969.6,873.72 1970.3,873.71 1971.1,873.65 1971.8,873.71 1972.6,873.62 1973.3,873.71 1974.1,873.80 1974.8,873.85 1975.6,874.37 1976.3,874.42 1977.1,874.39 1977.8,874.41 1978.6,873.78 1979.3,873.74 1980.1,873.87 1980.8,874.07 1981.6,874.41 1982.3,874.32 1983.1,874.44 1983.8,874.48 1984.6,874.11 1985.3,874.08 1986.1,874.14 1986.8,874.17 1987.6,874.13 1988.3,874.01 1989.1,873.99 1989.8,873.95 1990.6,874.72 1991.3,874.78 1992.1,874.84 1992.8,874.75 1993.6,874.70 1994.3,874.76 1995.1,874.73 1995.8,874.58 1996.6,874.16 1997.3,874.31 1998.1,874.19 1998.8,874.07 1999.6,874.17 2000.3,874.10 2001.1,874.01 2001.8,874.11 2002.6,874.43 2003.3,874.30 2004.1,874.27 2004.8,874.27 2005.6,873.63 2006.3,873.73 2007.1,873.76 2007.8,873.45 2008.6,873.46 2009.3,873.36 2010.1,873.29 2010.8,873.12 2011.6,873.19 2012.3,872.85 2013.1,872.80 2013.8,872.52 2014.6,872.67 2015.3,872.37 2016.1,872.19 2016.8,871.84 2017.6,870.68 2018.3,870.02 2019.1,869.40 2019.8,868.58 2020.6,867.87 2021.3,866.56 2022.1,865.11 2022.8,863.09 2023.6,860.77 2024.3,858.10 2025.1,855.06 2025.8,851.71 2026.6,848.12 2027.3,844.34 2028.1,840.56 2028.8,837.41 2029.6,834.91 2030.3,833.68 2031.1,833.65 2031.8,835.07 2032.6,837.50 2033.3,840.87 2034.1,844.63 2034.8,848.23 2035.6,851.87 2036.3,855.27 2037.1,858.23 2037.8,861.02 2038.6,862.87 2039.3,864.73 2040.1,866.28 2040.8,867.67 2041.6,869.37 2042.3,870.25 2043.1,870.78 2043.8,871.26 2044.6,871.15 2045.3,871.43 2046.1,871.62 2046.8,872.10 2047.6,872.58 2048.3,872.63 2049.1,872.85 2049.8,873.02 2050.6,872.82 2051.3,872.81 2052.1,873.08 2052.8,873.12 2053.6,873.93 2054.3,873.95 2055.1,874.00 2055.8,874.17 2056.6,873.72 2057.3,873.83 2058.1,873.89 2058.8,873.91 2059.6,873.65 2060.3,873.66 2061.1,873.60 2061.8,873.78 2062.6,874.13 2063.3,874.07 2064.1,874.07 2064.8,874.24 2065.6,874.25 2066.3,874.20 2067.1,874.24 2067.8,874.27 2068.6,873.79 2069.3,873.85 2070.1,873.87 2070.8,873.95 2071.6,874.25 2072.3,874.33 2073.1,874.25 2073.8,874.20 2074.6,873.74 2075.3,873.85 2076.1,873.91 2076.8,873.88 2077.6,874.22 2078.3,874.01 2079.1,873.91 2079.8,873.78 2080.6,873.91 2081.3,873.76 2082.1,873.58 2082.8,873.36 2083.6,872.25 2084.3,871.84 2085.1,871.40 2085.8,871.15 2086.6,870.93 2087.3,870.75 2088.1,870.54 2088.8,870.25 2089.6,870.48 2090.3,870.71 2091.1,871.00 2091.8,871.58 2092.6,872.19 2093.3,872.62 2094.1,873.10 2094.8,872.84 2095.6,873.37 2096.3,873.58 2097.1,873.77 2097.8,874.00 2098.6,873.99 2099.3,874.13 2100.1,874.32 2100.8,874.34 2101.6,874.38 2102.3,874.49 2103.1,874.36 2103.8,874.53 2104.6,874.47 2105.3,874.54 2106.1,874.59 2106.8,874.65 2107.6,874.60 2108.3,874.63 2109.1,874.76 2109.8,874.65 2110.6,874.59 2111.3,874.55 2112.1,874.73 2112.8,874.76 2113.6,874.34 2114.3,874.38 2115.1,874.45 2115.8,874.34 2116.6,874.40 2117.3,874.37 2118.1,874.40 2118.8,874.39 2119.6,875.10 2120.3,875.13 2121.1,875.01 2121.8,875.07 2122.6,874.83 2123.3,874.73 2124.1,874.75 2124.8,874.73 2125.6,874.80 2126.3,874.84 2127.1,874.73 2127.8,874.80 2128.6,874.84 2129.3,874.78 2130.1,874.83 2130.8,874.83 2131.6,874.51 2132.3,874.54 2133.1,874.41 2133.8,874.52 2134.6,874.73 2135.3,874.91 2136.1,874.88 2136.8,874.86 2137.6,874.35 2138.3,874.47 2139.1,874.44 2139.8,874.57 2140.6,874.75 2141.3,874.79 2142.1,874.89 2142.8,874.84 2143.6,874.50 2144.3,874.46 2145.1,874.61 2145.8,874.51 2146.6,874.88 2147.3,874.79 2148.1,874.73 2148.8,874.84 2149.6,874.83 2150.3,874.87 2151.1,874.91 2151.8,874.78 2152.6,874.51 2153.3,874.52 2154.1,874.49 2154.8,874.47 2155.6,874.73 2156.3,874.91 2157.1,874.88 2157.8,874.82 2158.6,874.52 2159.3,874.39 2160.1,874.47 2160.8,874.40 2161.6,874.71 2162.3,874.82 2163.1,874.81 2163.8,874.87 2164.6,874.85 2165.3,874.79 2166.1,874.87 2166.8,874.83 2167.6,874.83 2168.3,874.93 2169.1,874.86 2169.8,874.77 2170.6,875.25 2171.3,875.17 2172.1,875.20 2172.8,875.26 2173.6,874.91 2174.3,874.86 2175.1,874.82 2175.8,874.95 2176.6,874.84 2177.3,874.86 2178.1,874.82 2178.8,874.85 2179.6,874.83 2180.3,874.83 2181.1,874.91 2181.8,874.85 2182.6,875.24 2183.3,875.22 2184.1,875.17 2184.8,875.35 2185.6,874.53 2186.3,874.50 2187.1,874.43 2187.8,874.53 2188.6,875.17 2189.3,875.28 2190.1,875.24 2190.8,875.23 2191.6,874.47 2192.3,874.56 2193.1,874.43 2193.8,874.59 2194.6,874.86 2195.3,874.83 2196.1,875.01 2196.8,874.83 2197.6,874.52 2198.3,874.48 2199.1,874.51 2199.8,874.48 2200.6,874.89 2201.3,874.78 2202.1,874.86 2202.8,874.94 2203.6,874.60 2204.3,874.60 2205.1,874.66 2205.8,874.50 2206.6,874.88 2207.3,874.94 2208.1,874.97 2208.8,874.90 2209.6,874.93 2210.3,874.90 2211.1,874.87 2211.8,874.94 2212.6,874.98 2213.3,874.88 2214.1,875.01 2214.8,875.03 2215.6,874.92 2216.3,874.96 2217.1,874.98 2217.8,875.04 2218.6,874.78 2219.3,874.92 2220.1,874.87 2220.8,874.86 2221.6,874.92 2222.3,874.81 2223.1,874.82 2223.8,874.82 2224.6,875.18 2225.3,875.24 2226.1,875.10 2226.8,875.19 2227.6,875.32 2228.3,875.09 2229.1,874.90 2229.8,874.86 2230.6,874.43 2231.3,874.49 2232.1,874.67 2232.8,874.56 2233.6,874.77 2234.3,874.82 2235.1,874.92 2235.8,874.88 2236.6,874.76 2237.3,875.00 2238.1,875.04 2238.8,874.89 2239.6,874.93 2240.3,874.98 2241.1,874.92 2241.8,874.97 2242.6,874.87 2243.3,874.91 2244.1,874.96 2244.8,875.47 2245.6,874.89 2246.3,874.86 2247.1,874.95 2247.8,874.95 2248.6,874.57 2249.3,874.48 2250.1,874.45 2250.8,874.53 2251.6,875.29 2252.3,875.16 2253.1,875.35 2253.8,875.15 2254.6,875.29 2255.3,875.22 2256.1,875.19 2256.8,875.20 2257.6,875.04 2258.3,874.87 2259.1,874.83 2259.8,874.96 2260.6,874.90 2261.3,875.00 2262.1,874.78 2262.8,874.77 2263.6,874.76 2264.3,874.97 2265.1,874.97 2265.8,874.93 2266.6,874.61 2267.3,874.60 2268.1,874.60 2268.8,874.56 2269.6,874.94 2270.3,874.91 2271.1,874.81 2271.8,874.96 2272.6,875.23 2273.3,875.23 2274.1,875.38 2274.8,875.29 2275.6,874.99 2276.3,874.97 2277.1,874.97 2277.8,874.89 2278.6,874.76 2279.3,874.76 2280.1,875.47 2280.8,874.81 2281.6,874.61 2282.3,874.61 2283.1,874.42 2283.8,874.39 2284.6,874.66 2285.3,874.64 2286.1,874.56 2286.8,874.49 2287.6,875.00 2288.3,875.01 2289.1,874.77 2289.8,874.96 2290.6,874.91 2291.3,874.91 2292.1,875.54 2292.8,874.97 2293.6,875.13 2294.3,875.20 2295.1,875.30 2295.8,875.18 2296.6,874.89 2297.3,874.86 2298.1,874.92 2298.8,874.90 2299.6,874.94 2300.3,875.03 2301.1,874.93 2301.8,874.93 2302.6,874.85 2303.3,874.97 2304.1,874.89" fill="none" stroke="#f72a26" stroke-width="3.4" stroke-linejoin="round"/>
</g>
<rect x="490.6" y="58.5" width="29" height="31.5" fill="#0a0b0d"/>
<rect x="535.8" y="335.4" width="30.4" height="35" fill="#0a0b0d"/>
<rect x="622.8" y="315.9" width="28.8" height="32" fill="#0a0b0d"/>
<rect x="710.4" y="198.1" width="30" height="33.5" fill="#0a0b0d"/>
<rect x="1161.6" y="303.1" width="28.3" height="33" fill="#0a0b0d"/>
<rect x="1779.5" y="17.0" width="30.5" height="28.7" fill="#0a0b0d"/>
<rect x="711.5" y="416.5" width="31" height="30" fill="#0a0b0d"/>
<rect x="537.3" y="690.4" width="25.8" height="33.6" fill="#0a0b0d"/>
<rect x="622.8" y="663.2" width="32.5" height="33" fill="#0a0b0d"/>
<rect x="1158.1" y="726.0" width="30.9" height="33.6" fill="#0a0b0d"/>
<rect x="1543.4" y="735.2" width="28.7" height="34" fill="#0a0b0d"/>
<rect x="1781.1" y="764.7" width="29" height="32" fill="#0a0b0d"/>
<rect x="710.6" y="831.0" width="28.7" height="32" fill="#0a0b0d"/>
<rect x="535.4" y="1126.5" width="30.7" height="33" fill="#0a0b0d"/>
<rect x="624.5" y="1130.4" width="29" height="32.7" fill="#0a0b0d"/>
<rect x="1161.8" y="1155.5" width="28.4" height="33" fill="#0a0b0d"/>
<rect x="1547.8" y="1163.2" width="30.3" height="34.6" fill="#0a0b0d"/>
<rect x="1784.1" y="1155.6" width="27.6" height="31.6" fill="#0a0b0d"/>
<ellipse cx="724" cy="71" rx="12.75" ry="17.00" fill="#0a0b0d"/>
<ellipse cx="550.5" cy="306.9" rx="14.15" ry="16.75" fill="#0a0b0d"/>
<ellipse cx="549.3" cy="659.4" rx="13.90" ry="16.10" fill="#0a0b0d"/>
<ellipse cx="614.9" cy="765" rx="14.65" ry="16.50" fill="#0a0b0d"/>
<ellipse cx="552" cy="1099.5" rx="13.90" ry="16.50" fill="#0a0b0d"/>
<path d="M1392.3,74.7H1426.8M1409.6,57.0V92.5" stroke="#0a0b0d" stroke-width="3.0" fill="none"/>
<path d="M531.2,256.2H570.2M550.7,236.7V275.7" stroke="#0a0b0d" stroke-width="3.0" fill="none"/>
<path d="M1157.3,274.0H1196.3M1176.8,254.5V293.5" stroke="#0a0b0d" stroke-width="3.0" fill="none"/>
<path d="M2012.2,307.4H2051.2M2031.7,287.9V326.9" stroke="#0a0b0d" stroke-width="3.0" fill="none"/>
<path d="M531.0,617.8H570.0M550.5,598.3V637.3" stroke="#0a0b0d" stroke-width="3.0" fill="none"/>
<path d="M1155.6,693.5H1194.6M1175.1,674.0V713.0" stroke="#0a0b0d" stroke-width="3.0" fill="none"/>
<path d="M2011.2,712.2H2050.2M2030.7,692.7V731.7" stroke="#0a0b0d" stroke-width="3.0" fill="none"/>
<path d="M534.8,1048.9H573.8M554.3,1029.4V1068.4" stroke="#0a0b0d" stroke-width="3.0" fill="none"/>
<path d="M1155.6,1117.8H1194.6M1175.1,1098.3V1137.3" stroke="#0a0b0d" stroke-width="3.0" fill="none"/>
<path d="M2013.3,1090.7H2052.3M2032.8,1071.2V1110.2" stroke="#0a0b0d" stroke-width="3.0" fill="none"/>
<text transform="translate(1130.22,90.10) scale(0.9137,1)" font-family='"Liberation Sans", sans-serif' font-size="59.91" stroke="#fff" stroke-width="0.45">x</text>
<text transform="translate(623.61,305.10) scale(0.9302,1)" font-family='"Liberation Sans", sans-serif' font-size="59.53" stroke="#fff" stroke-width="0.45">x</text>
<text transform="translate(2018.12,372.70) scale(0.8947,1)" font-family='"Liberation Sans", sans-serif' font-size="60.47" stroke="#fff" stroke-width="0.45">x</text>
<text transform="translate(627.01,652.10) scale(0.9337,1)" font-family='"Liberation Sans", sans-serif' font-size="59.53" stroke="#fff" stroke-width="0.45">x</text>
<text transform="translate(2017.71,773.10) scale(0.9202,1)" font-family='"Liberation Sans", sans-serif' font-size="59.72" stroke="#fff" stroke-width="0.45">x</text>
<text transform="translate(623.60,1111.70) scale(0.9432,1)" font-family='"Liberation Sans", sans-serif' font-size="59.15" stroke="#fff" stroke-width="0.45">x</text>
<text transform="translate(2018.11,1155.90) scale(0.9237,1)" font-family='"Liberation Sans", sans-serif' font-size="59.72" stroke="#fff" stroke-width="0.45">x</text>
<text transform="translate(1932.76,164.90) scale(0.9441,1)" font-family='"Liberation Serif", serif' font-size="56.95" font-weight="bold">MgCa2Zn1Gd3</text>
<text transform="translate(1932.76,578.60) scale(0.9364,1)" font-family='"Liberation Serif", serif' font-size="57.56" font-weight="bold">MgCa3Zn1Gd2</text>
<text transform="translate(1932.76,968.60) scale(0.9300,1)" font-family='"Liberation Serif", serif' font-size="57.56" font-weight="bold">MgCa4Zn1Gd1</text>
<text transform="translate(543.64,95.00) scale(0.9340,1)" font-family='"Liberation Serif", serif' font-size="66.4">Mg</text>
<text transform="translate(754.37,95.80) scale(0.9167,1)" font-family='"Liberation Serif", serif' font-size="66.4">Mg<tspan font-size="38.0" dy="26.8">26</tspan><tspan dy="-26.8">Zn</tspan><tspan font-size="38.0" dy="26.8">59</tspan><tspan dy="-26.8">Gd</tspan><tspan font-size="38.0" dy="26.8">7</tspan></text>
<text transform="translate(1174.19,96.50) scale(0.9076,1)" font-family='"Liberation Serif", serif' font-size="66.4">Mg<tspan font-size="38.0" dy="26.8">2</tspan><tspan dy="-26.8">Ca</tspan></text>
<text transform="translate(1439.50,96.50) scale(0.9033,1)" font-family='"Liberation Serif", serif' font-size="66.4">Ca<tspan font-size="38.0" dy="26.8">2</tspan><tspan dy="-26.8">Mg</tspan><tspan font-size="38.0" dy="26.8">6</tspan><tspan dy="-26.8">Zn</tspan><tspan font-size="38.0" dy="26.8">3</tspan></text>
<text transform="translate(1145.82,1446.60) scale(1.0375,1)" font-family='"Liberation Serif", serif' font-size="62.94" font-weight="bold">2</text>
<text transform="translate(1189.42,1446.60) scale(0.9920,1)" font-family='"Liberation Serif", serif' font-size="58.93" font-weight="bold">Theta</text>
<text transform="translate(1346.91,1440.86) scale(0.9292,1)" font-family='"Liberation Serif", serif' font-size="59.50" font-weight="bold">(</text>
<text transform="translate(1384.98,1440.86) scale(0.9398,1)" font-family='"Liberation Serif", serif' font-size="59.50" font-weight="bold">)</text>
<text transform="translate(1365.70,1404.96) scale(1.6552,1)" font-family='"Liberation Serif", serif' font-size="24.17" font-weight="bold">o</text>
<text transform="translate(70.60,830.55) rotate(-90) scale(0.9955,1)" font-family='"Liberation Serif", serif' font-size="66.56" font-weight="bold">Intensity</text>
<text transform="translate(63.79,565.65) rotate(-90) scale(1.0325,1)" font-family='"Liberation Serif", serif' font-size="56.97" font-weight="bold">(</text>
<text transform="translate(70.60,545.52) rotate(-90) scale(0.9354,1)" font-family='"Liberation Serif", serif' font-size="66.56" font-weight="bold">a.u.</text>
<text transform="translate(63.79,446.59) rotate(-90) scale(1.0225,1)" font-family='"Liberation Serif", serif' font-size="56.97" font-weight="bold">)</text>
</svg></body></html>
